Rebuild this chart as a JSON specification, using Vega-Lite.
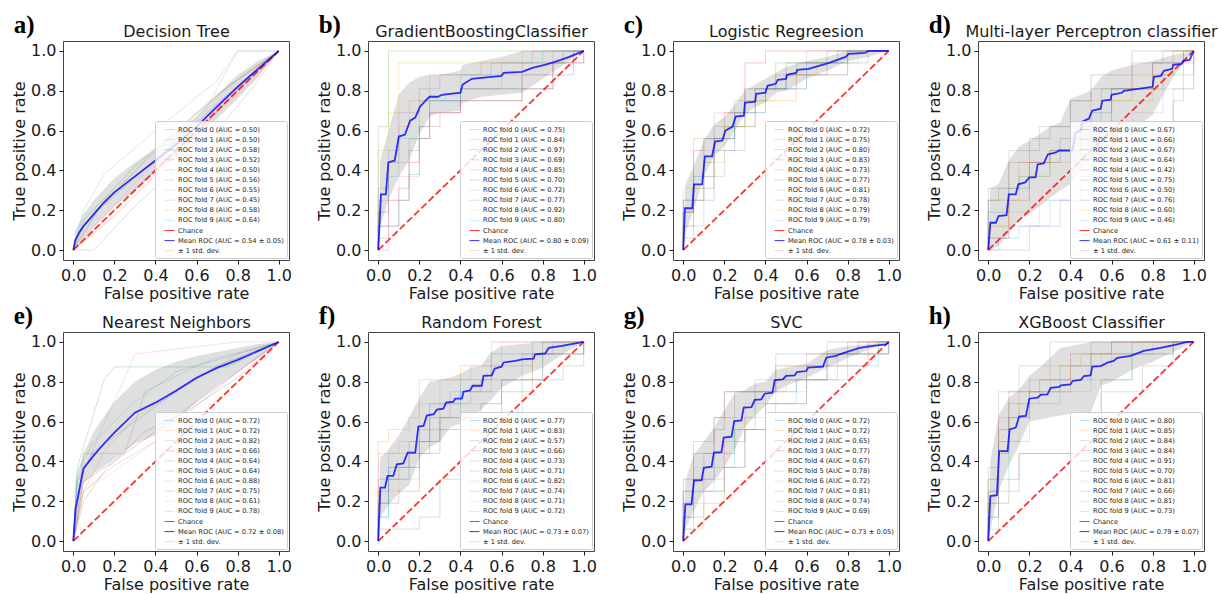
{
"$schema":"https://vega.github.io/schema/vega-lite/v6.json",
"background":"white",
"padding":{"left":11,"top":12,"right":0,"bottom":0},
"columns":4,
"spacing":{"row":72,"column":79},
"bounds":"flush",
"datasets":{
"fold_a":[{"k":0,"fpr":0,"tpr":0},{"k":0,"fpr":0.12,"tpr":0.2},{"k":0,"fpr":0.45,"tpr":0.5},{"k":0,"fpr":0.75,"tpr":0.78},{"k":0,"fpr":1,"tpr":1},
{"k":1,"fpr":0,"tpr":0},{"k":1,"fpr":0.1,"tpr":0.12},{"k":1,"fpr":0.5,"tpr":0.5},{"k":1,"fpr":0.9,"tpr":0.88},{"k":1,"fpr":1,"tpr":1},
{"k":2,"fpr":0,"tpr":0},{"k":2,"fpr":0.05,"tpr":0.15},{"k":2,"fpr":0.3,"tpr":0.42},{"k":2,"fpr":0.7,"tpr":0.78},{"k":2,"fpr":1,"tpr":1},
{"k":3,"fpr":0,"tpr":0},{"k":3,"fpr":0.2,"tpr":0.17},{"k":3,"fpr":0.6,"tpr":0.58},{"k":3,"fpr":0.9,"tpr":0.92},{"k":3,"fpr":1,"tpr":1},
{"k":4,"fpr":0,"tpr":0},{"k":4,"fpr":0.1,"tpr":0.1},{"k":4,"fpr":0.5,"tpr":0.5},{"k":4,"fpr":1,"tpr":1},
{"k":5,"fpr":0,"tpr":0},{"k":5,"fpr":0.05,"tpr":0.12},{"k":5,"fpr":0.35,"tpr":0.45},{"k":5,"fpr":0.75,"tpr":0.82},{"k":5,"fpr":1,"tpr":1},
{"k":6,"fpr":0,"tpr":0},{"k":6,"fpr":0.25,"tpr":0.28},{"k":6,"fpr":0.65,"tpr":0.72},{"k":6,"fpr":0.8,"tpr":1},{"k":6,"fpr":1,"tpr":1},
{"k":7,"fpr":0,"tpr":0},{"k":7,"fpr":0.1,"tpr":0},{"k":7,"fpr":0.3,"tpr":0.22},{"k":7,"fpr":0.7,"tpr":0.6},{"k":7,"fpr":0.9,"tpr":0.85},{"k":7,"fpr":1,"tpr":1},
{"k":8,"fpr":0,"tpr":0},{"k":8,"fpr":0.15,"tpr":0.25},{"k":8,"fpr":0.5,"tpr":0.6},{"k":8,"fpr":0.85,"tpr":0.9},{"k":8,"fpr":1,"tpr":1},
{"k":9,"fpr":0,"tpr":0},{"k":9,"fpr":0.05,"tpr":0.2},{"k":9,"fpr":0.15,"tpr":0.38},{"k":9,"fpr":0.4,"tpr":0.6},{"k":9,"fpr":0.7,"tpr":0.85},{"k":9,"fpr":0.8,"tpr":1},{"k":9,"fpr":1,"tpr":1}],
"fold_b":[{"k":0,"fpr":0,"tpr":0},{"k":0,"fpr":0,"tpr":0.12},{"k":0,"fpr":0.1,"tpr":0.25},{"k":0,"fpr":0.15,"tpr":0.38},{"k":0,"fpr":0.2,"tpr":0.62},{"k":0,"fpr":0.25,"tpr":0.75},{"k":0,"fpr":0.4,"tpr":0.81},{"k":0,"fpr":0.85,"tpr":0.94},{"k":0,"fpr":0.95,"tpr":1},{"k":0,"fpr":1,"tpr":1},
{"k":1,"fpr":0,"tpr":0},{"k":1,"fpr":0,"tpr":0.19},{"k":1,"fpr":0.05,"tpr":0.44},{"k":1,"fpr":0.1,"tpr":0.62},{"k":1,"fpr":0.15,"tpr":0.75},{"k":1,"fpr":0.25,"tpr":0.88},{"k":1,"fpr":0.5,"tpr":0.94},{"k":1,"fpr":0.7,"tpr":1},{"k":1,"fpr":1,"tpr":1},
{"k":2,"fpr":0,"tpr":0},{"k":2,"fpr":0,"tpr":0.62},{"k":2,"fpr":0.05,"tpr":1},{"k":2,"fpr":1,"tpr":1},
{"k":3,"fpr":0,"tpr":0},{"k":3,"fpr":0,"tpr":0.06},{"k":3,"fpr":0.05,"tpr":0.25},{"k":3,"fpr":0.15,"tpr":0.44},{"k":3,"fpr":0.2,"tpr":0.56},{"k":3,"fpr":0.25,"tpr":0.69},{"k":3,"fpr":0.4,"tpr":0.75},{"k":3,"fpr":0.7,"tpr":0.81},{"k":3,"fpr":0.85,"tpr":0.94},{"k":3,"fpr":1,"tpr":1},
{"k":4,"fpr":0,"tpr":0},{"k":4,"fpr":0,"tpr":0.31},{"k":4,"fpr":0.05,"tpr":0.5},{"k":4,"fpr":0.1,"tpr":0.69},{"k":4,"fpr":0.2,"tpr":0.81},{"k":4,"fpr":0.3,"tpr":0.88},{"k":4,"fpr":0.55,"tpr":0.94},{"k":4,"fpr":0.75,"tpr":1},{"k":4,"fpr":1,"tpr":1},
{"k":5,"fpr":0,"tpr":0},{"k":5,"fpr":0,"tpr":0.12},{"k":5,"fpr":0.1,"tpr":0.31},{"k":5,"fpr":0.15,"tpr":0.5},{"k":5,"fpr":0.2,"tpr":0.62},{"k":5,"fpr":0.3,"tpr":0.69},{"k":5,"fpr":0.4,"tpr":0.75},{"k":5,"fpr":0.7,"tpr":0.88},{"k":5,"fpr":0.95,"tpr":0.94},{"k":5,"fpr":1,"tpr":1},
{"k":6,"fpr":0,"tpr":0},{"k":6,"fpr":0.05,"tpr":0.25},{"k":6,"fpr":0.1,"tpr":0.37},{"k":6,"fpr":0.2,"tpr":0.56},{"k":6,"fpr":0.25,"tpr":0.69},{"k":6,"fpr":0.4,"tpr":0.81},{"k":6,"fpr":0.6,"tpr":0.88},{"k":6,"fpr":0.85,"tpr":1},{"k":6,"fpr":1,"tpr":1},
{"k":7,"fpr":0,"tpr":0},{"k":7,"fpr":0,"tpr":0.25},{"k":7,"fpr":0.05,"tpr":0.44},{"k":7,"fpr":0.15,"tpr":0.56},{"k":7,"fpr":0.25,"tpr":0.75},{"k":7,"fpr":0.4,"tpr":0.81},{"k":7,"fpr":0.7,"tpr":0.94},{"k":7,"fpr":0.9,"tpr":1},{"k":7,"fpr":1,"tpr":1},
{"k":8,"fpr":0,"tpr":0},{"k":8,"fpr":0,"tpr":0.5},{"k":8,"fpr":0.05,"tpr":0.69},{"k":8,"fpr":0.1,"tpr":0.94},{"k":8,"fpr":0.95,"tpr":1},{"k":8,"fpr":1,"tpr":1},
{"k":9,"fpr":0,"tpr":0},{"k":9,"fpr":0,"tpr":0.19},{"k":9,"fpr":0.05,"tpr":0.37},{"k":9,"fpr":0.1,"tpr":0.56},{"k":9,"fpr":0.2,"tpr":0.75},{"k":9,"fpr":0.4,"tpr":0.88},{"k":9,"fpr":0.6,"tpr":0.94},{"k":9,"fpr":0.8,"tpr":1},{"k":9,"fpr":1,"tpr":1}],
"fold_c":[{"k":0,"fpr":0,"tpr":0},{"k":0,"fpr":0,"tpr":0.06},{"k":0,"fpr":0.05,"tpr":0.25},{"k":0,"fpr":0.15,"tpr":0.5},{"k":0,"fpr":0.25,"tpr":0.62},{"k":0,"fpr":0.35,"tpr":0.81},{"k":0,"fpr":0.5,"tpr":0.88},{"k":0,"fpr":0.7,"tpr":0.94},{"k":0,"fpr":0.9,"tpr":1},{"k":0,"fpr":1,"tpr":1},
{"k":1,"fpr":0,"tpr":0},{"k":1,"fpr":0,"tpr":0.12},{"k":1,"fpr":0.05,"tpr":0.56},{"k":1,"fpr":0.2,"tpr":0.62},{"k":1,"fpr":0.35,"tpr":0.75},{"k":1,"fpr":0.55,"tpr":0.88},{"k":1,"fpr":0.8,"tpr":1},{"k":1,"fpr":1,"tpr":1},
{"k":2,"fpr":0,"tpr":0},{"k":2,"fpr":0,"tpr":0.25},{"k":2,"fpr":0.1,"tpr":0.44},{"k":2,"fpr":0.15,"tpr":0.62},{"k":2,"fpr":0.3,"tpr":0.81},{"k":2,"fpr":0.45,"tpr":0.94},{"k":2,"fpr":0.7,"tpr":1},{"k":2,"fpr":1,"tpr":1},
{"k":3,"fpr":0,"tpr":0},{"k":3,"fpr":0,"tpr":0.19},{"k":3,"fpr":0.05,"tpr":0.5},{"k":3,"fpr":0.1,"tpr":0.56},{"k":3,"fpr":0.2,"tpr":0.69},{"k":3,"fpr":0.3,"tpr":0.94},{"k":3,"fpr":0.4,"tpr":1},{"k":3,"fpr":1,"tpr":1},
{"k":4,"fpr":0,"tpr":0},{"k":4,"fpr":0,"tpr":0.12},{"k":4,"fpr":0.1,"tpr":0.37},{"k":4,"fpr":0.2,"tpr":0.5},{"k":4,"fpr":0.3,"tpr":0.69},{"k":4,"fpr":0.4,"tpr":0.81},{"k":4,"fpr":0.6,"tpr":0.88},{"k":4,"fpr":0.8,"tpr":1},{"k":4,"fpr":1,"tpr":1},
{"k":5,"fpr":0,"tpr":0},{"k":5,"fpr":0,"tpr":0.19},{"k":5,"fpr":0.05,"tpr":0.31},{"k":5,"fpr":0.15,"tpr":0.56},{"k":5,"fpr":0.25,"tpr":0.69},{"k":5,"fpr":0.35,"tpr":0.81},{"k":5,"fpr":0.5,"tpr":0.94},{"k":5,"fpr":0.75,"tpr":1},{"k":5,"fpr":1,"tpr":1},
{"k":6,"fpr":0,"tpr":0},{"k":6,"fpr":0,"tpr":0.25},{"k":6,"fpr":0.1,"tpr":0.5},{"k":6,"fpr":0.15,"tpr":0.69},{"k":6,"fpr":0.3,"tpr":0.81},{"k":6,"fpr":0.45,"tpr":0.88},{"k":6,"fpr":0.6,"tpr":1},{"k":6,"fpr":1,"tpr":1},
{"k":7,"fpr":0,"tpr":0},{"k":7,"fpr":0,"tpr":0.19},{"k":7,"fpr":0.05,"tpr":0.37},{"k":7,"fpr":0.15,"tpr":0.56},{"k":7,"fpr":0.25,"tpr":0.75},{"k":7,"fpr":0.4,"tpr":0.81},{"k":7,"fpr":0.55,"tpr":0.94},{"k":7,"fpr":0.8,"tpr":1},{"k":7,"fpr":1,"tpr":1},
{"k":8,"fpr":0,"tpr":0},{"k":8,"fpr":0,"tpr":0.31},{"k":8,"fpr":0.1,"tpr":0.44},{"k":8,"fpr":0.2,"tpr":0.62},{"k":8,"fpr":0.3,"tpr":0.75},{"k":8,"fpr":0.45,"tpr":0.88},{"k":8,"fpr":0.65,"tpr":0.94},{"k":8,"fpr":0.85,"tpr":1},{"k":8,"fpr":1,"tpr":1},
{"k":9,"fpr":0,"tpr":0},{"k":9,"fpr":0,"tpr":0.25},{"k":9,"fpr":0.05,"tpr":0.37},{"k":9,"fpr":0.1,"tpr":0.56},{"k":9,"fpr":0.25,"tpr":0.69},{"k":9,"fpr":0.4,"tpr":0.81},{"k":9,"fpr":0.6,"tpr":0.94},{"k":9,"fpr":0.8,"tpr":1},{"k":9,"fpr":1,"tpr":1}],
"fold_d":[{"k":0,"fpr":0,"tpr":0},{"k":0,"fpr":0,"tpr":0.19},{"k":0,"fpr":0.1,"tpr":0.31},{"k":0,"fpr":0.2,"tpr":0.44},{"k":0,"fpr":0.35,"tpr":0.56},{"k":0,"fpr":0.5,"tpr":0.69},{"k":0,"fpr":0.6,"tpr":0.81},{"k":0,"fpr":0.8,"tpr":0.94},{"k":0,"fpr":0.95,"tpr":1},{"k":0,"fpr":1,"tpr":1},
{"k":1,"fpr":0,"tpr":0},{"k":1,"fpr":0,"tpr":0.12},{"k":1,"fpr":0.1,"tpr":0.25},{"k":1,"fpr":0.15,"tpr":0.44},{"k":1,"fpr":0.4,"tpr":0.56},{"k":1,"fpr":0.5,"tpr":0.75},{"k":1,"fpr":0.7,"tpr":0.88},{"k":1,"fpr":0.9,"tpr":1},{"k":1,"fpr":1,"tpr":1},
{"k":2,"fpr":0,"tpr":0},{"k":2,"fpr":0,"tpr":0.25},{"k":2,"fpr":0.05,"tpr":0.31},{"k":2,"fpr":0.15,"tpr":0.37},{"k":2,"fpr":0.3,"tpr":0.5},{"k":2,"fpr":0.4,"tpr":0.62},{"k":2,"fpr":0.55,"tpr":0.81},{"k":2,"fpr":0.85,"tpr":0.88},{"k":2,"fpr":0.95,"tpr":1},{"k":2,"fpr":1,"tpr":1},
{"k":3,"fpr":0,"tpr":0},{"k":3,"fpr":0,"tpr":0.06},{"k":3,"fpr":0.1,"tpr":0.25},{"k":3,"fpr":0.2,"tpr":0.44},{"k":3,"fpr":0.3,"tpr":0.5},{"k":3,"fpr":0.45,"tpr":0.62},{"k":3,"fpr":0.6,"tpr":0.81},{"k":3,"fpr":0.8,"tpr":0.94},{"k":3,"fpr":1,"tpr":1},
{"k":4,"fpr":0,"tpr":0},{"k":4,"fpr":0.05,"tpr":0},{"k":4,"fpr":0.2,"tpr":0.12},{"k":4,"fpr":0.35,"tpr":0.25},{"k":4,"fpr":0.5,"tpr":0.37},{"k":4,"fpr":0.7,"tpr":0.5},{"k":4,"fpr":0.9,"tpr":0.75},{"k":4,"fpr":0.95,"tpr":0.88},{"k":4,"fpr":1,"tpr":1},
{"k":5,"fpr":0,"tpr":0},{"k":5,"fpr":0,"tpr":0.25},{"k":5,"fpr":0.1,"tpr":0.44},{"k":5,"fpr":0.2,"tpr":0.56},{"k":5,"fpr":0.3,"tpr":0.62},{"k":5,"fpr":0.4,"tpr":0.75},{"k":5,"fpr":0.5,"tpr":0.88},{"k":5,"fpr":0.7,"tpr":1},{"k":5,"fpr":1,"tpr":1},
{"k":6,"fpr":0,"tpr":0},{"k":6,"fpr":0,"tpr":0.06},{"k":6,"fpr":0.1,"tpr":0.12},{"k":6,"fpr":0.25,"tpr":0.25},{"k":6,"fpr":0.4,"tpr":0.37},{"k":6,"fpr":0.55,"tpr":0.5},{"k":6,"fpr":0.7,"tpr":0.69},{"k":6,"fpr":0.85,"tpr":0.81},{"k":6,"fpr":1,"tpr":1},
{"k":7,"fpr":0,"tpr":0},{"k":7,"fpr":0,"tpr":0.31},{"k":7,"fpr":0.1,"tpr":0.5},{"k":7,"fpr":0.25,"tpr":0.62},{"k":7,"fpr":0.4,"tpr":0.75},{"k":7,"fpr":0.5,"tpr":0.81},{"k":7,"fpr":0.7,"tpr":0.94},{"k":7,"fpr":0.85,"tpr":1},{"k":7,"fpr":1,"tpr":1},
{"k":8,"fpr":0,"tpr":0},{"k":8,"fpr":0,"tpr":0.12},{"k":8,"fpr":0.1,"tpr":0.19},{"k":8,"fpr":0.2,"tpr":0.37},{"k":8,"fpr":0.3,"tpr":0.5},{"k":8,"fpr":0.45,"tpr":0.56},{"k":8,"fpr":0.6,"tpr":0.75},{"k":8,"fpr":0.8,"tpr":0.88},{"k":8,"fpr":0.9,"tpr":1},{"k":8,"fpr":1,"tpr":1},
{"k":9,"fpr":0,"tpr":0},{"k":9,"fpr":0.05,"tpr":0.06},{"k":9,"fpr":0.15,"tpr":0.12},{"k":9,"fpr":0.3,"tpr":0.25},{"k":9,"fpr":0.45,"tpr":0.37},{"k":9,"fpr":0.6,"tpr":0.5},{"k":9,"fpr":0.8,"tpr":0.62},{"k":9,"fpr":0.9,"tpr":0.81},{"k":9,"fpr":1,"tpr":1}],
"fold_e":[{"k":0,"fpr":0,"tpr":0},{"k":0,"fpr":0.02,"tpr":0.3},{"k":0,"fpr":0.1,"tpr":0.45},{"k":0,"fpr":0.3,"tpr":0.6},{"k":0,"fpr":0.5,"tpr":0.75},{"k":0,"fpr":0.7,"tpr":0.88},{"k":0,"fpr":1,"tpr":1},
{"k":1,"fpr":0,"tpr":0},{"k":1,"fpr":0.05,"tpr":0.25},{"k":1,"fpr":0.15,"tpr":0.45},{"k":1,"fpr":0.3,"tpr":0.62},{"k":1,"fpr":0.5,"tpr":0.75},{"k":1,"fpr":0.8,"tpr":0.94},{"k":1,"fpr":1,"tpr":1},
{"k":2,"fpr":0,"tpr":0},{"k":2,"fpr":0.02,"tpr":0.37},{"k":2,"fpr":0.15,"tpr":0.81},{"k":2,"fpr":0.2,"tpr":0.875},{"k":2,"fpr":0.75,"tpr":0.875},{"k":2,"fpr":1,"tpr":1},
{"k":3,"fpr":0,"tpr":0},{"k":3,"fpr":0.05,"tpr":0.3},{"k":3,"fpr":0.2,"tpr":0.4},{"k":3,"fpr":0.4,"tpr":0.55},{"k":3,"fpr":0.6,"tpr":0.7},{"k":3,"fpr":0.8,"tpr":0.85},{"k":3,"fpr":1,"tpr":1},
{"k":4,"fpr":0,"tpr":0},{"k":4,"fpr":0.05,"tpr":0.25},{"k":4,"fpr":0.2,"tpr":0.38},{"k":4,"fpr":0.4,"tpr":0.5},{"k":4,"fpr":0.6,"tpr":0.68},{"k":4,"fpr":0.8,"tpr":0.85},{"k":4,"fpr":1,"tpr":1},
{"k":5,"fpr":0,"tpr":0},{"k":5,"fpr":0.05,"tpr":0.2},{"k":5,"fpr":0.15,"tpr":0.35},{"k":5,"fpr":0.35,"tpr":0.55},{"k":5,"fpr":0.55,"tpr":0.65},{"k":5,"fpr":0.8,"tpr":0.82},{"k":5,"fpr":1,"tpr":1},
{"k":6,"fpr":0,"tpr":0},{"k":6,"fpr":0.05,"tpr":0.35},{"k":6,"fpr":0.3,"tpr":0.94},{"k":6,"fpr":0.8,"tpr":1},{"k":6,"fpr":1,"tpr":1},
{"k":7,"fpr":0,"tpr":0},{"k":7,"fpr":0.05,"tpr":0.44},{"k":7,"fpr":0.25,"tpr":0.44},{"k":7,"fpr":0.35,"tpr":0.75},{"k":7,"fpr":0.6,"tpr":0.88},{"k":7,"fpr":1,"tpr":1},
{"k":8,"fpr":0,"tpr":0},{"k":8,"fpr":0.05,"tpr":0.25},{"k":8,"fpr":0.2,"tpr":0.35},{"k":8,"fpr":0.4,"tpr":0.5},{"k":8,"fpr":0.6,"tpr":0.62},{"k":8,"fpr":0.8,"tpr":0.8},{"k":8,"fpr":1,"tpr":1},
{"k":9,"fpr":0,"tpr":0},{"k":9,"fpr":0.02,"tpr":0.35},{"k":9,"fpr":0.1,"tpr":0.5},{"k":9,"fpr":0.3,"tpr":0.7},{"k":9,"fpr":0.5,"tpr":0.85},{"k":9,"fpr":0.7,"tpr":0.92},{"k":9,"fpr":1,"tpr":1}],
"fold_f":[{"k":0,"fpr":0,"tpr":0},{"k":0,"fpr":0,"tpr":0.12},{"k":0,"fpr":0.05,"tpr":0.31},{"k":0,"fpr":0.15,"tpr":0.5},{"k":0,"fpr":0.25,"tpr":0.69},{"k":0,"fpr":0.4,"tpr":0.81},{"k":0,"fpr":0.55,"tpr":0.94},{"k":0,"fpr":0.8,"tpr":1},{"k":0,"fpr":1,"tpr":1},
{"k":1,"fpr":0,"tpr":0},{"k":1,"fpr":0,"tpr":0.5},{"k":1,"fpr":0.05,"tpr":0.56},{"k":1,"fpr":0.15,"tpr":0.62},{"k":1,"fpr":0.2,"tpr":0.81},{"k":1,"fpr":0.4,"tpr":0.88},{"k":1,"fpr":0.55,"tpr":1},{"k":1,"fpr":1,"tpr":1},
{"k":2,"fpr":0,"tpr":0},{"k":2,"fpr":0,"tpr":0.06},{"k":2,"fpr":0.2,"tpr":0.12},{"k":2,"fpr":0.3,"tpr":0.31},{"k":2,"fpr":0.45,"tpr":0.44},{"k":2,"fpr":0.55,"tpr":0.62},{"k":2,"fpr":0.7,"tpr":0.81},{"k":2,"fpr":0.9,"tpr":0.88},{"k":2,"fpr":1,"tpr":1},
{"k":3,"fpr":0,"tpr":0},{"k":3,"fpr":0,"tpr":0.19},{"k":3,"fpr":0.1,"tpr":0.25},{"k":3,"fpr":0.2,"tpr":0.44},{"k":3,"fpr":0.3,"tpr":0.56},{"k":3,"fpr":0.45,"tpr":0.62},{"k":3,"fpr":0.6,"tpr":0.75},{"k":3,"fpr":0.75,"tpr":0.94},{"k":3,"fpr":1,"tpr":1},
{"k":4,"fpr":0,"tpr":0},{"k":4,"fpr":0,"tpr":0.25},{"k":4,"fpr":0.05,"tpr":0.37},{"k":4,"fpr":0.15,"tpr":0.44},{"k":4,"fpr":0.25,"tpr":0.62},{"k":4,"fpr":0.35,"tpr":0.75},{"k":4,"fpr":0.5,"tpr":0.81},{"k":4,"fpr":0.7,"tpr":0.94},{"k":4,"fpr":0.85,"tpr":1},{"k":4,"fpr":1,"tpr":1},
{"k":5,"fpr":0,"tpr":0},{"k":5,"fpr":0,"tpr":0.31},{"k":5,"fpr":0.1,"tpr":0.37},{"k":5,"fpr":0.2,"tpr":0.5},{"k":5,"fpr":0.3,"tpr":0.62},{"k":5,"fpr":0.5,"tpr":0.69},{"k":5,"fpr":0.6,"tpr":0.81},{"k":5,"fpr":0.8,"tpr":0.94},{"k":5,"fpr":1,"tpr":1},
{"k":6,"fpr":0,"tpr":0},{"k":6,"fpr":0,"tpr":0.44},{"k":6,"fpr":0.1,"tpr":0.5},{"k":6,"fpr":0.2,"tpr":0.69},{"k":6,"fpr":0.3,"tpr":0.81},{"k":6,"fpr":0.45,"tpr":0.88},{"k":6,"fpr":0.6,"tpr":1},{"k":6,"fpr":1,"tpr":1},
{"k":7,"fpr":0,"tpr":0},{"k":7,"fpr":0,"tpr":0.19},{"k":7,"fpr":0.05,"tpr":0.44},{"k":7,"fpr":0.2,"tpr":0.56},{"k":7,"fpr":0.3,"tpr":0.69},{"k":7,"fpr":0.45,"tpr":0.75},{"k":7,"fpr":0.55,"tpr":0.88},{"k":7,"fpr":0.75,"tpr":1},{"k":7,"fpr":1,"tpr":1},
{"k":8,"fpr":0,"tpr":0},{"k":8,"fpr":0,"tpr":0.25},{"k":8,"fpr":0.1,"tpr":0.31},{"k":8,"fpr":0.2,"tpr":0.44},{"k":8,"fpr":0.25,"tpr":0.62},{"k":8,"fpr":0.4,"tpr":0.69},{"k":8,"fpr":0.6,"tpr":0.81},{"k":8,"fpr":0.75,"tpr":0.94},{"k":8,"fpr":0.9,"tpr":1},{"k":8,"fpr":1,"tpr":1},
{"k":9,"fpr":0,"tpr":0},{"k":9,"fpr":0,"tpr":0.12},{"k":9,"fpr":0.05,"tpr":0.37},{"k":9,"fpr":0.2,"tpr":0.5},{"k":9,"fpr":0.3,"tpr":0.62},{"k":9,"fpr":0.4,"tpr":0.75},{"k":9,"fpr":0.6,"tpr":0.81},{"k":9,"fpr":0.8,"tpr":0.94},{"k":9,"fpr":1,"tpr":1}],
"fold_g":[{"k":0,"fpr":0,"tpr":0},{"k":0,"fpr":0,"tpr":0.19},{"k":0,"fpr":0.05,"tpr":0.31},{"k":0,"fpr":0.15,"tpr":0.44},{"k":0,"fpr":0.25,"tpr":0.56},{"k":0,"fpr":0.35,"tpr":0.75},{"k":0,"fpr":0.55,"tpr":0.81},{"k":0,"fpr":0.7,"tpr":0.94},{"k":0,"fpr":1,"tpr":1},
{"k":1,"fpr":0,"tpr":0},{"k":1,"fpr":0,"tpr":0.06},{"k":1,"fpr":0.1,"tpr":0.25},{"k":1,"fpr":0.2,"tpr":0.5},{"k":1,"fpr":0.3,"tpr":0.69},{"k":1,"fpr":0.45,"tpr":0.81},{"k":1,"fpr":0.7,"tpr":0.88},{"k":1,"fpr":0.9,"tpr":1},{"k":1,"fpr":1,"tpr":1},
{"k":2,"fpr":0,"tpr":0},{"k":2,"fpr":0,"tpr":0.12},{"k":2,"fpr":0.1,"tpr":0.19},{"k":2,"fpr":0.2,"tpr":0.37},{"k":2,"fpr":0.3,"tpr":0.56},{"k":2,"fpr":0.45,"tpr":0.69},{"k":2,"fpr":0.6,"tpr":0.81},{"k":2,"fpr":0.8,"tpr":0.94},{"k":2,"fpr":1,"tpr":1},
{"k":3,"fpr":0,"tpr":0},{"k":3,"fpr":0,"tpr":0.25},{"k":3,"fpr":0.05,"tpr":0.44},{"k":3,"fpr":0.15,"tpr":0.56},{"k":3,"fpr":0.2,"tpr":0.75},{"k":3,"fpr":0.45,"tpr":0.88},{"k":3,"fpr":0.7,"tpr":0.94},{"k":3,"fpr":0.85,"tpr":1},{"k":3,"fpr":1,"tpr":1},
{"k":4,"fpr":0,"tpr":0},{"k":4,"fpr":0,"tpr":0.12},{"k":4,"fpr":0.05,"tpr":0.25},{"k":4,"fpr":0.2,"tpr":0.37},{"k":4,"fpr":0.3,"tpr":0.56},{"k":4,"fpr":0.4,"tpr":0.69},{"k":4,"fpr":0.6,"tpr":0.81},{"k":4,"fpr":0.75,"tpr":0.94},{"k":4,"fpr":1,"tpr":1},
{"k":5,"fpr":0,"tpr":0},{"k":5,"fpr":0,"tpr":0.31},{"k":5,"fpr":0.1,"tpr":0.44},{"k":5,"fpr":0.15,"tpr":0.62},{"k":5,"fpr":0.25,"tpr":0.75},{"k":5,"fpr":0.45,"tpr":0.81},{"k":5,"fpr":0.6,"tpr":0.94},{"k":5,"fpr":0.8,"tpr":1},{"k":5,"fpr":1,"tpr":1},
{"k":6,"fpr":0,"tpr":0},{"k":6,"fpr":0,"tpr":0.19},{"k":6,"fpr":0.1,"tpr":0.31},{"k":6,"fpr":0.2,"tpr":0.5},{"k":6,"fpr":0.3,"tpr":0.62},{"k":6,"fpr":0.4,"tpr":0.75},{"k":6,"fpr":0.6,"tpr":0.88},{"k":6,"fpr":0.9,"tpr":1},{"k":6,"fpr":1,"tpr":1},
{"k":7,"fpr":0,"tpr":0},{"k":7,"fpr":0,"tpr":0.25},{"k":7,"fpr":0.05,"tpr":0.5},{"k":7,"fpr":0.15,"tpr":0.62},{"k":7,"fpr":0.2,"tpr":0.75},{"k":7,"fpr":0.35,"tpr":0.81},{"k":7,"fpr":0.45,"tpr":0.94},{"k":7,"fpr":0.7,"tpr":1},{"k":7,"fpr":1,"tpr":1},
{"k":8,"fpr":0,"tpr":0},{"k":8,"fpr":0,"tpr":0.12},{"k":8,"fpr":0.05,"tpr":0.37},{"k":8,"fpr":0.15,"tpr":0.44},{"k":8,"fpr":0.25,"tpr":0.62},{"k":8,"fpr":0.35,"tpr":0.75},{"k":8,"fpr":0.5,"tpr":0.88},{"k":8,"fpr":0.7,"tpr":0.94},{"k":8,"fpr":0.95,"tpr":1},{"k":8,"fpr":1,"tpr":1},
{"k":9,"fpr":0,"tpr":0},{"k":9,"fpr":0,"tpr":0.06},{"k":9,"fpr":0.05,"tpr":0.25},{"k":9,"fpr":0.15,"tpr":0.37},{"k":9,"fpr":0.25,"tpr":0.56},{"k":9,"fpr":0.4,"tpr":0.69},{"k":9,"fpr":0.55,"tpr":0.81},{"k":9,"fpr":0.7,"tpr":0.88},{"k":9,"fpr":0.95,"tpr":1},{"k":9,"fpr":1,"tpr":1}],
"fold_h":[{"k":0,"fpr":0,"tpr":0},{"k":0,"fpr":0,"tpr":0.25},{"k":0,"fpr":0.05,"tpr":0.5},{"k":0,"fpr":0.1,"tpr":0.62},{"k":0,"fpr":0.2,"tpr":0.75},{"k":0,"fpr":0.35,"tpr":0.81},{"k":0,"fpr":0.5,"tpr":0.94},{"k":0,"fpr":0.7,"tpr":1},{"k":0,"fpr":1,"tpr":1},
{"k":1,"fpr":0,"tpr":0},{"k":1,"fpr":0,"tpr":0.19},{"k":1,"fpr":0.05,"tpr":0.62},{"k":1,"fpr":0.15,"tpr":0.75},{"k":1,"fpr":0.3,"tpr":0.88},{"k":1,"fpr":0.45,"tpr":0.94},{"k":1,"fpr":0.6,"tpr":1},{"k":1,"fpr":1,"tpr":1},
{"k":2,"fpr":0,"tpr":0},{"k":2,"fpr":0,"tpr":0.31},{"k":2,"fpr":0.05,"tpr":0.44},{"k":2,"fpr":0.1,"tpr":0.69},{"k":2,"fpr":0.2,"tpr":0.81},{"k":2,"fpr":0.35,"tpr":0.88},{"k":2,"fpr":0.5,"tpr":1},{"k":2,"fpr":1,"tpr":1},
{"k":3,"fpr":0,"tpr":0},{"k":3,"fpr":0,"tpr":0.12},{"k":3,"fpr":0.05,"tpr":0.56},{"k":3,"fpr":0.1,"tpr":0.75},{"k":3,"fpr":0.25,"tpr":0.81},{"k":3,"fpr":0.4,"tpr":0.94},{"k":3,"fpr":0.6,"tpr":1},{"k":3,"fpr":1,"tpr":1},
{"k":4,"fpr":0,"tpr":0},{"k":4,"fpr":0,"tpr":0.37},{"k":4,"fpr":0.05,"tpr":0.75},{"k":4,"fpr":0.15,"tpr":0.88},{"k":4,"fpr":0.3,"tpr":1},{"k":4,"fpr":1,"tpr":1},
{"k":5,"fpr":0,"tpr":0},{"k":5,"fpr":0,"tpr":0.19},{"k":5,"fpr":0.1,"tpr":0.31},{"k":5,"fpr":0.15,"tpr":0.44},{"k":5,"fpr":0.5,"tpr":0.62},{"k":5,"fpr":0.55,"tpr":0.81},{"k":5,"fpr":0.7,"tpr":0.94},{"k":5,"fpr":0.9,"tpr":1},{"k":5,"fpr":1,"tpr":1},
{"k":6,"fpr":0,"tpr":0},{"k":6,"fpr":0,"tpr":0.25},{"k":6,"fpr":0.05,"tpr":0.44},{"k":6,"fpr":0.1,"tpr":0.62},{"k":6,"fpr":0.2,"tpr":0.75},{"k":6,"fpr":0.4,"tpr":0.88},{"k":6,"fpr":0.6,"tpr":0.94},{"k":6,"fpr":0.8,"tpr":1},{"k":6,"fpr":1,"tpr":1},
{"k":7,"fpr":0,"tpr":0},{"k":7,"fpr":0,"tpr":0.06},{"k":7,"fpr":0.05,"tpr":0.25},{"k":7,"fpr":0.15,"tpr":0.44},{"k":7,"fpr":0.5,"tpr":0.5},{"k":7,"fpr":0.55,"tpr":0.75},{"k":7,"fpr":0.75,"tpr":0.88},{"k":7,"fpr":0.9,"tpr":1},{"k":7,"fpr":1,"tpr":1},
{"k":8,"fpr":0,"tpr":0},{"k":8,"fpr":0,"tpr":0.31},{"k":8,"fpr":0.05,"tpr":0.5},{"k":8,"fpr":0.15,"tpr":0.69},{"k":8,"fpr":0.25,"tpr":0.75},{"k":8,"fpr":0.4,"tpr":0.88},{"k":8,"fpr":0.55,"tpr":0.94},{"k":8,"fpr":0.75,"tpr":1},{"k":8,"fpr":1,"tpr":1},
{"k":9,"fpr":0,"tpr":0},{"k":9,"fpr":0,"tpr":0.12},{"k":9,"fpr":0.05,"tpr":0.31},{"k":9,"fpr":0.1,"tpr":0.5},{"k":9,"fpr":0.2,"tpr":0.69},{"k":9,"fpr":0.35,"tpr":0.75},{"k":9,"fpr":0.5,"tpr":0.81},{"k":9,"fpr":0.7,"tpr":0.94},{"k":9,"fpr":0.9,"tpr":1},{"k":9,"fpr":1,"tpr":1}],
"mean_a":[{"fpr":0,"tpr":0},{"fpr":0.01,"tpr":0.05},{"fpr":0.03,"tpr":0.09},{"fpr":0.05,"tpr":0.12},{"fpr":0.1,"tpr":0.18},{"fpr":0.15,"tpr":0.24},{"fpr":0.2,"tpr":0.29},{"fpr":0.3,"tpr":0.37},{"fpr":0.4,"tpr":0.45},{"fpr":0.5,"tpr":0.53},{"fpr":0.6,"tpr":0.62},{"fpr":0.7,"tpr":0.72},{"fpr":0.8,"tpr":0.82},{"fpr":0.9,"tpr":0.91},{"fpr":1,"tpr":1}],
"band_a":[{"fpr":0,"lo":0,"hi":0},{"fpr":0.01,"lo":0.01,"hi":0.1},{"fpr":0.05,"lo":0.06,"hi":0.18},{"fpr":0.1,"lo":0.12,"hi":0.25},{"fpr":0.2,"lo":0.22,"hi":0.36},{"fpr":0.3,"lo":0.3,"hi":0.44},{"fpr":0.4,"lo":0.39,"hi":0.51},{"fpr":0.5,"lo":0.47,"hi":0.59},{"fpr":0.6,"lo":0.57,"hi":0.67},{"fpr":0.7,"lo":0.66,"hi":0.78},{"fpr":0.8,"lo":0.76,"hi":0.88},{"fpr":0.9,"lo":0.87,"hi":0.95},{"fpr":1,"lo":1,"hi":1}],
"mean_b":[{"fpr":0,"tpr":0},{"fpr":0.013,"tpr":0.28},{"fpr":0.037,"tpr":0.28},{"fpr":0.049,"tpr":0.44},{"fpr":0.08,"tpr":0.45},{"fpr":0.1,"tpr":0.57},{"fpr":0.13,"tpr":0.58},{"fpr":0.155,"tpr":0.65},{"fpr":0.18,"tpr":0.665},{"fpr":0.203,"tpr":0.72},{"fpr":0.23,"tpr":0.75},{"fpr":0.25,"tpr":0.77},{"fpr":0.29,"tpr":0.77},{"fpr":0.31,"tpr":0.78},{"fpr":0.4,"tpr":0.79},{"fpr":0.41,"tpr":0.83},{"fpr":0.455,"tpr":0.86},{"fpr":0.55,"tpr":0.87},{"fpr":0.6,"tpr":0.875},{"fpr":0.61,"tpr":0.89},{"fpr":0.7,"tpr":0.895},{"fpr":0.75,"tpr":0.915},{"fpr":0.81,"tpr":0.93},{"fpr":0.86,"tpr":0.945},{"fpr":0.93,"tpr":0.97},{"fpr":1,"tpr":1}],
"band_b":[{"fpr":0,"lo":0,"hi":0},{"fpr":0.01,"lo":0.12,"hi":0.45},{"fpr":0.05,"lo":0.25,"hi":0.6},{"fpr":0.1,"lo":0.37,"hi":0.78},{"fpr":0.15,"lo":0.45,"hi":0.84},{"fpr":0.2,"lo":0.58,"hi":0.87},{"fpr":0.25,"lo":0.67,"hi":0.88},{"fpr":0.3,"lo":0.69,"hi":0.88},{"fpr":0.4,"lo":0.7,"hi":0.9},{"fpr":0.41,"lo":0.74,"hi":0.93},{"fpr":0.5,"lo":0.77,"hi":0.95},{"fpr":0.6,"lo":0.78,"hi":0.97},{"fpr":0.7,"lo":0.79,"hi":1},{"fpr":0.8,"lo":0.86,"hi":1},{"fpr":0.9,"lo":0.93,"hi":1},{"fpr":1,"lo":1,"hi":1}],
"mean_c":[{"fpr":0,"tpr":0},{"fpr":0.008,"tpr":0.21},{"fpr":0.044,"tpr":0.21},{"fpr":0.052,"tpr":0.33},{"fpr":0.092,"tpr":0.33},{"fpr":0.105,"tpr":0.47},{"fpr":0.14,"tpr":0.47},{"fpr":0.155,"tpr":0.545},{"fpr":0.19,"tpr":0.55},{"fpr":0.205,"tpr":0.6},{"fpr":0.24,"tpr":0.62},{"fpr":0.255,"tpr":0.67},{"fpr":0.295,"tpr":0.675},{"fpr":0.3,"tpr":0.74},{"fpr":0.35,"tpr":0.745},{"fpr":0.355,"tpr":0.785},{"fpr":0.4,"tpr":0.79},{"fpr":0.41,"tpr":0.825},{"fpr":0.45,"tpr":0.835},{"fpr":0.46,"tpr":0.855},{"fpr":0.5,"tpr":0.86},{"fpr":0.505,"tpr":0.88},{"fpr":0.55,"tpr":0.89},{"fpr":0.555,"tpr":0.905},{"fpr":0.61,"tpr":0.91},{"fpr":0.66,"tpr":0.925},{"fpr":0.71,"tpr":0.94},{"fpr":0.79,"tpr":0.97},{"fpr":0.805,"tpr":0.985},{"fpr":0.885,"tpr":0.99},{"fpr":0.9,"tpr":1},{"fpr":1,"tpr":1}],
"band_c":[{"fpr":0,"lo":0,"hi":0},{"fpr":0.01,"lo":0.08,"hi":0.33},{"fpr":0.05,"lo":0.2,"hi":0.42},{"fpr":0.1,"lo":0.37,"hi":0.55},{"fpr":0.15,"lo":0.47,"hi":0.63},{"fpr":0.2,"lo":0.52,"hi":0.67},{"fpr":0.25,"lo":0.6,"hi":0.73},{"fpr":0.3,"lo":0.68,"hi":0.8},{"fpr":0.35,"lo":0.72,"hi":0.83},{"fpr":0.4,"lo":0.74,"hi":0.86},{"fpr":0.45,"lo":0.79,"hi":0.89},{"fpr":0.5,"lo":0.8,"hi":0.92},{"fpr":0.6,"lo":0.86,"hi":0.95},{"fpr":0.7,"lo":0.9,"hi":0.97},{"fpr":0.8,"lo":0.95,"hi":1},{"fpr":0.9,"lo":0.97,"hi":1},{"fpr":1,"lo":1,"hi":1}],
"mean_d":[{"fpr":0,"tpr":0},{"fpr":0.01,"tpr":0.137},{"fpr":0.037,"tpr":0.137},{"fpr":0.05,"tpr":0.17},{"fpr":0.089,"tpr":0.175},{"fpr":0.1,"tpr":0.28},{"fpr":0.134,"tpr":0.28},{"fpr":0.146,"tpr":0.33},{"fpr":0.18,"tpr":0.34},{"fpr":0.2,"tpr":0.365},{"fpr":0.23,"tpr":0.365},{"fpr":0.24,"tpr":0.43},{"fpr":0.27,"tpr":0.435},{"fpr":0.29,"tpr":0.48},{"fpr":0.33,"tpr":0.49},{"fpr":0.345,"tpr":0.5},{"fpr":0.39,"tpr":0.5},{"fpr":0.41,"tpr":0.5},{"fpr":0.425,"tpr":0.59},{"fpr":0.45,"tpr":0.6},{"fpr":0.458,"tpr":0.645},{"fpr":0.49,"tpr":0.66},{"fpr":0.506,"tpr":0.7},{"fpr":0.547,"tpr":0.71},{"fpr":0.555,"tpr":0.75},{"fpr":0.596,"tpr":0.755},{"fpr":0.6,"tpr":0.78},{"fpr":0.65,"tpr":0.79},{"fpr":0.66,"tpr":0.8},{"fpr":0.8,"tpr":0.82},{"fpr":0.806,"tpr":0.87},{"fpr":0.84,"tpr":0.875},{"fpr":0.855,"tpr":0.9},{"fpr":0.895,"tpr":0.91},{"fpr":0.9,"tpr":0.93},{"fpr":0.94,"tpr":0.935},{"fpr":0.95,"tpr":0.95},{"fpr":0.98,"tpr":0.955},{"fpr":1,"tpr":1}],
"band_d":[{"fpr":0,"lo":0,"hi":0},{"fpr":0.01,"lo":0,"hi":0.31},{"fpr":0.05,"lo":0.02,"hi":0.33},{"fpr":0.1,"lo":0.09,"hi":0.45},{"fpr":0.15,"lo":0.15,"hi":0.52},{"fpr":0.2,"lo":0.18,"hi":0.55},{"fpr":0.25,"lo":0.22,"hi":0.58},{"fpr":0.3,"lo":0.26,"hi":0.62},{"fpr":0.35,"lo":0.3,"hi":0.64},{"fpr":0.4,"lo":0.33,"hi":0.76},{"fpr":0.45,"lo":0.4,"hi":0.78},{"fpr":0.5,"lo":0.45,"hi":0.8},{"fpr":0.55,"lo":0.5,"hi":0.87},{"fpr":0.6,"lo":0.52,"hi":0.9},{"fpr":0.7,"lo":0.6,"hi":0.93},{"fpr":0.8,"lo":0.68,"hi":0.95},{"fpr":0.9,"lo":0.87,"hi":0.98},{"fpr":1,"lo":1,"hi":1}],
"mean_e":[{"fpr":0,"tpr":0},{"fpr":0.011,"tpr":0.16},{"fpr":0.05,"tpr":0.365},{"fpr":0.1,"tpr":0.43},{"fpr":0.15,"tpr":0.49},{"fpr":0.2,"tpr":0.545},{"fpr":0.3,"tpr":0.645},{"fpr":0.4,"tpr":0.695},{"fpr":0.5,"tpr":0.755},{"fpr":0.6,"tpr":0.82},{"fpr":0.7,"tpr":0.87},{"fpr":0.8,"tpr":0.91},{"fpr":0.9,"tpr":0.955},{"fpr":1,"tpr":1}],
"band_e":[{"fpr":0,"lo":0,"hi":0},{"fpr":0.01,"lo":0.03,"hi":0.3},{"fpr":0.05,"lo":0.29,"hi":0.44},{"fpr":0.1,"lo":0.34,"hi":0.55},{"fpr":0.2,"lo":0.41,"hi":0.7},{"fpr":0.3,"lo":0.49,"hi":0.8},{"fpr":0.4,"lo":0.53,"hi":0.86},{"fpr":0.5,"lo":0.6,"hi":0.9},{"fpr":0.6,"lo":0.7,"hi":0.93},{"fpr":0.7,"lo":0.78,"hi":0.95},{"fpr":0.8,"lo":0.85,"hi":0.97},{"fpr":0.9,"lo":0.92,"hi":0.99},{"fpr":1,"lo":1,"hi":1}],
"mean_f":[{"fpr":0,"tpr":0},{"fpr":0.01,"tpr":0.268},{"fpr":0.033,"tpr":0.268},{"fpr":0.045,"tpr":0.327},{"fpr":0.073,"tpr":0.327},{"fpr":0.09,"tpr":0.385},{"fpr":0.122,"tpr":0.39},{"fpr":0.143,"tpr":0.444},{"fpr":0.18,"tpr":0.444},{"fpr":0.195,"tpr":0.575},{"fpr":0.22,"tpr":0.578},{"fpr":0.236,"tpr":0.63},{"fpr":0.27,"tpr":0.637},{"fpr":0.285,"tpr":0.66},{"fpr":0.317,"tpr":0.665},{"fpr":0.33,"tpr":0.695},{"fpr":0.366,"tpr":0.7},{"fpr":0.374,"tpr":0.715},{"fpr":0.407,"tpr":0.715},{"fpr":0.415,"tpr":0.75},{"fpr":0.447,"tpr":0.757},{"fpr":0.459,"tpr":0.78},{"fpr":0.504,"tpr":0.78},{"fpr":0.512,"tpr":0.83},{"fpr":0.553,"tpr":0.832},{"fpr":0.566,"tpr":0.866},{"fpr":0.6,"tpr":0.876},{"fpr":0.61,"tpr":0.897},{"fpr":0.667,"tpr":0.905},{"fpr":0.7,"tpr":0.913},{"fpr":0.756,"tpr":0.916},{"fpr":0.764,"tpr":0.938},{"fpr":0.813,"tpr":0.943},{"fpr":0.83,"tpr":0.97},{"fpr":0.894,"tpr":0.98},{"fpr":1,"tpr":1}],
"band_f":[{"fpr":0,"lo":0,"hi":0},{"fpr":0.01,"lo":0.12,"hi":0.42},{"fpr":0.05,"lo":0.18,"hi":0.46},{"fpr":0.1,"lo":0.24,"hi":0.53},{"fpr":0.15,"lo":0.28,"hi":0.62},{"fpr":0.2,"lo":0.42,"hi":0.72},{"fpr":0.25,"lo":0.47,"hi":0.8},{"fpr":0.3,"lo":0.5,"hi":0.81},{"fpr":0.35,"lo":0.57,"hi":0.82},{"fpr":0.4,"lo":0.59,"hi":0.84},{"fpr":0.45,"lo":0.62,"hi":0.87},{"fpr":0.5,"lo":0.66,"hi":0.88},{"fpr":0.55,"lo":0.71,"hi":0.95},{"fpr":0.6,"lo":0.77,"hi":0.98},{"fpr":0.7,"lo":0.83,"hi":0.99},{"fpr":0.8,"lo":0.87,"hi":1},{"fpr":0.9,"lo":0.94,"hi":1},{"fpr":1,"lo":1,"hi":1}],
"mean_g":[{"fpr":0,"tpr":0},{"fpr":0.01,"tpr":0.184},{"fpr":0.04,"tpr":0.184},{"fpr":0.052,"tpr":0.305},{"fpr":0.089,"tpr":0.305},{"fpr":0.1,"tpr":0.368},{"fpr":0.138,"tpr":0.374},{"fpr":0.149,"tpr":0.444},{"fpr":0.186,"tpr":0.447},{"fpr":0.197,"tpr":0.52},{"fpr":0.235,"tpr":0.524},{"fpr":0.248,"tpr":0.603},{"fpr":0.283,"tpr":0.606},{"fpr":0.294,"tpr":0.67},{"fpr":0.332,"tpr":0.673},{"fpr":0.348,"tpr":0.709},{"fpr":0.38,"tpr":0.712},{"fpr":0.396,"tpr":0.74},{"fpr":0.434,"tpr":0.745},{"fpr":0.445,"tpr":0.809},{"fpr":0.485,"tpr":0.812},{"fpr":0.5,"tpr":0.83},{"fpr":0.542,"tpr":0.832},{"fpr":0.553,"tpr":0.849},{"fpr":0.599,"tpr":0.854},{"fpr":0.607,"tpr":0.871},{"fpr":0.68,"tpr":0.876},{"fpr":0.696,"tpr":0.921},{"fpr":0.744,"tpr":0.93},{"fpr":0.76,"tpr":0.938},{"fpr":0.858,"tpr":0.97},{"fpr":0.922,"tpr":0.98},{"fpr":0.987,"tpr":0.988},{"fpr":1,"tpr":1}],
"band_g":[{"fpr":0,"lo":0,"hi":0},{"fpr":0.01,"lo":0.06,"hi":0.3},{"fpr":0.05,"lo":0.15,"hi":0.43},{"fpr":0.1,"lo":0.25,"hi":0.5},{"fpr":0.15,"lo":0.3,"hi":0.57},{"fpr":0.2,"lo":0.37,"hi":0.66},{"fpr":0.25,"lo":0.46,"hi":0.74},{"fpr":0.3,"lo":0.57,"hi":0.76},{"fpr":0.35,"lo":0.63,"hi":0.79},{"fpr":0.4,"lo":0.68,"hi":0.8},{"fpr":0.45,"lo":0.75,"hi":0.86},{"fpr":0.5,"lo":0.78,"hi":0.87},{"fpr":0.6,"lo":0.82,"hi":0.89},{"fpr":0.7,"lo":0.87,"hi":0.96},{"fpr":0.8,"lo":0.92,"hi":0.98},{"fpr":0.9,"lo":0.96,"hi":0.99},{"fpr":1,"lo":1,"hi":1}],
"mean_h":[{"fpr":0,"tpr":0},{"fpr":0.01,"tpr":0.226},{"fpr":0.042,"tpr":0.23},{"fpr":0.053,"tpr":0.452},{"fpr":0.094,"tpr":0.452},{"fpr":0.104,"tpr":0.561},{"fpr":0.134,"tpr":0.57},{"fpr":0.15,"tpr":0.625},{"fpr":0.183,"tpr":0.628},{"fpr":0.2,"tpr":0.715},{"fpr":0.24,"tpr":0.72},{"fpr":0.256,"tpr":0.735},{"fpr":0.288,"tpr":0.737},{"fpr":0.304,"tpr":0.77},{"fpr":0.345,"tpr":0.774},{"fpr":0.353,"tpr":0.782},{"fpr":0.4,"tpr":0.787},{"fpr":0.41,"tpr":0.804},{"fpr":0.45,"tpr":0.809},{"fpr":0.466,"tpr":0.829},{"fpr":0.498,"tpr":0.832},{"fpr":0.506,"tpr":0.876},{"fpr":0.547,"tpr":0.879},{"fpr":0.58,"tpr":0.896},{"fpr":0.61,"tpr":0.905},{"fpr":0.628,"tpr":0.92},{"fpr":0.693,"tpr":0.93},{"fpr":0.757,"tpr":0.955},{"fpr":0.838,"tpr":0.97},{"fpr":0.919,"tpr":0.988},{"fpr":0.968,"tpr":1},{"fpr":1,"tpr":1}],
"band_h":[{"fpr":0,"lo":0,"hi":0},{"fpr":0.01,"lo":0.05,"hi":0.4},{"fpr":0.05,"lo":0.25,"hi":0.63},{"fpr":0.1,"lo":0.38,"hi":0.72},{"fpr":0.15,"lo":0.48,"hi":0.76},{"fpr":0.2,"lo":0.6,"hi":0.83},{"fpr":0.25,"lo":0.61,"hi":0.87},{"fpr":0.3,"lo":0.62,"hi":0.92},{"fpr":0.35,"lo":0.63,"hi":0.97},{"fpr":0.4,"lo":0.64,"hi":0.98},{"fpr":0.5,"lo":0.65,"hi":1},{"fpr":0.55,"lo":0.78,"hi":1},{"fpr":0.6,"lo":0.8,"hi":1},{"fpr":0.7,"lo":0.86,"hi":1},{"fpr":0.8,"lo":0.9,"hi":1},{"fpr":0.9,"lo":0.95,"hi":1},{"fpr":1,"lo":1,"hi":1}]
},
"concat":[
{"width":226,"height":219,"resolve":{"axis":{"x":"independent"}},"layer":[
 {"data":{"name":"band_a"},"mark":{"type":"area","opacity":1},"encoding":{"x":{"field":"fpr","type":"quantitative","scale":{"domain":[-0.05,1.05],"nice":false,"zero":false},"axis":{"values":[0,0.2,0.4,0.6,0.8,1],"format":".1f","title":"False positive rate"}},"y":{"field":"hi","type":"quantitative","scale":{"domain":[-0.05,1.05],"nice":false,"zero":false},"axis":{"values":[0,0.2,0.4,0.6,0.8,1],"format":".1f","title":"True positive rate"}},"y2":{"field":"lo"},
  "color":{"datum":"± 1 std. dev.","type":"nominal","scale":{"domain":["ROC fold 0 (AUC = 0.50)","ROC fold 1 (AUC = 0.50)","ROC fold 2 (AUC = 0.58)","ROC fold 3 (AUC = 0.52)","ROC fold 4 (AUC = 0.50)","ROC fold 5 (AUC = 0.56)","ROC fold 6 (AUC = 0.55)","ROC fold 7 (AUC = 0.45)","ROC fold 8 (AUC = 0.58)","ROC fold 9 (AUC = 0.64)","Chance","Mean ROC (AUC = 0.54 ± 0.05)","± 1 std. dev."],"range":["rgba(31,119,180,0.24)","rgba(255,127,14,0.24)","rgba(44,160,44,0.24)","rgba(214,39,40,0.24)","rgba(148,103,189,0.24)","rgba(140,86,75,0.24)","rgba(227,119,194,0.24)","rgba(127,127,127,0.24)","rgba(188,189,34,0.24)","rgba(23,190,207,0.24)","rgba(255,0,0,0.8)","rgba(0,0,255,0.8)","rgba(128,128,128,0.25)"]},
   "legend":{"title":null,"encode":{"symbols":{"update":{"shape":{"signal":"datum.value === '± 1 std. dev.' ? 'M-1,-0.45H1V0.45H-1Z' : 'stroke'"},"fill":{"signal":"datum.value === '± 1 std. dev.' ? 'rgba(128,128,128,0.3)' : 'transparent'"},"stroke":{"signal":"datum.value === 'Chance' ? 'rgba(255,0,0,0.8)' : indexof(datum.value,'Mean') === 0 ? 'rgba(0,0,255,0.8)' : datum.value === '± 1 std. dev.' ? 'rgba(128,128,128,0.4)' : ['rgba(31,119,180,0.3)','rgba(255,127,14,0.3)','rgba(44,160,44,0.3)','rgba(214,39,40,0.3)','rgba(148,103,189,0.3)','rgba(140,86,75,0.3)','rgba(227,119,194,0.3)','rgba(127,127,127,0.3)','rgba(188,189,34,0.3)','rgba(23,190,207,0.3)'][toNumber(substring(datum.value,9,10))]"},"strokeDash":{"signal":"datum.value === 'Chance' ? [3,1.5] : [1,0]"},"strokeWidth":{"signal":"(datum.value === 'Chance' || indexof(datum.value,'Mean') === 0) ? 1.5 : 1"},"opacity":{"value":1}}}}}}}},
 {"data":{"name":"fold_a"},"transform":[{"filter":"datum.k == 0"}],"mark":{"type":"line","strokeWidth":1},"encoding":{"x":{"field":"fpr","type":"quantitative","scale":{"domain":[-0.05,1.05],"nice":false,"zero":false},"axis":null},"y":{"field":"tpr","type":"quantitative","scale":{"domain":[-0.05,1.05],"nice":false,"zero":false}},"color":{"datum":"ROC fold 0 (AUC = 0.50)","type":"nominal"}}},
 {"data":{"name":"fold_a"},"transform":[{"filter":"datum.k == 1"}],"mark":{"type":"line","strokeWidth":1},"encoding":{"x":{"field":"fpr","type":"quantitative","scale":{"domain":[-0.05,1.05],"nice":false,"zero":false},"axis":null},"y":{"field":"tpr","type":"quantitative","scale":{"domain":[-0.05,1.05],"nice":false,"zero":false}},"color":{"datum":"ROC fold 1 (AUC = 0.50)","type":"nominal"}}},
 {"data":{"name":"fold_a"},"transform":[{"filter":"datum.k == 2"}],"mark":{"type":"line","strokeWidth":1},"encoding":{"x":{"field":"fpr","type":"quantitative","scale":{"domain":[-0.05,1.05],"nice":false,"zero":false},"axis":null},"y":{"field":"tpr","type":"quantitative","scale":{"domain":[-0.05,1.05],"nice":false,"zero":false}},"color":{"datum":"ROC fold 2 (AUC = 0.58)","type":"nominal"}}},
 {"data":{"name":"fold_a"},"transform":[{"filter":"datum.k == 3"}],"mark":{"type":"line","strokeWidth":1},"encoding":{"x":{"field":"fpr","type":"quantitative","scale":{"domain":[-0.05,1.05],"nice":false,"zero":false},"axis":null},"y":{"field":"tpr","type":"quantitative","scale":{"domain":[-0.05,1.05],"nice":false,"zero":false}},"color":{"datum":"ROC fold 3 (AUC = 0.52)","type":"nominal"}}},
 {"data":{"name":"fold_a"},"transform":[{"filter":"datum.k == 4"}],"mark":{"type":"line","strokeWidth":1},"encoding":{"x":{"field":"fpr","type":"quantitative","scale":{"domain":[-0.05,1.05],"nice":false,"zero":false},"axis":null},"y":{"field":"tpr","type":"quantitative","scale":{"domain":[-0.05,1.05],"nice":false,"zero":false}},"color":{"datum":"ROC fold 4 (AUC = 0.50)","type":"nominal"}}},
 {"data":{"name":"fold_a"},"transform":[{"filter":"datum.k == 5"}],"mark":{"type":"line","strokeWidth":1},"encoding":{"x":{"field":"fpr","type":"quantitative","scale":{"domain":[-0.05,1.05],"nice":false,"zero":false},"axis":null},"y":{"field":"tpr","type":"quantitative","scale":{"domain":[-0.05,1.05],"nice":false,"zero":false}},"color":{"datum":"ROC fold 5 (AUC = 0.56)","type":"nominal"}}},
 {"data":{"name":"fold_a"},"transform":[{"filter":"datum.k == 6"}],"mark":{"type":"line","strokeWidth":1},"encoding":{"x":{"field":"fpr","type":"quantitative","scale":{"domain":[-0.05,1.05],"nice":false,"zero":false},"axis":null},"y":{"field":"tpr","type":"quantitative","scale":{"domain":[-0.05,1.05],"nice":false,"zero":false}},"color":{"datum":"ROC fold 6 (AUC = 0.55)","type":"nominal"}}},
 {"data":{"name":"fold_a"},"transform":[{"filter":"datum.k == 7"}],"mark":{"type":"line","strokeWidth":1},"encoding":{"x":{"field":"fpr","type":"quantitative","scale":{"domain":[-0.05,1.05],"nice":false,"zero":false},"axis":null},"y":{"field":"tpr","type":"quantitative","scale":{"domain":[-0.05,1.05],"nice":false,"zero":false}},"color":{"datum":"ROC fold 7 (AUC = 0.45)","type":"nominal"}}},
 {"data":{"name":"fold_a"},"transform":[{"filter":"datum.k == 8"}],"mark":{"type":"line","strokeWidth":1},"encoding":{"x":{"field":"fpr","type":"quantitative","scale":{"domain":[-0.05,1.05],"nice":false,"zero":false},"axis":null},"y":{"field":"tpr","type":"quantitative","scale":{"domain":[-0.05,1.05],"nice":false,"zero":false}},"color":{"datum":"ROC fold 8 (AUC = 0.58)","type":"nominal"}}},
 {"data":{"name":"fold_a"},"transform":[{"filter":"datum.k == 9"}],"mark":{"type":"line","strokeWidth":1},"encoding":{"x":{"field":"fpr","type":"quantitative","scale":{"domain":[-0.05,1.05],"nice":false,"zero":false},"axis":null},"y":{"field":"tpr","type":"quantitative","scale":{"domain":[-0.05,1.05],"nice":false,"zero":false}},"color":{"datum":"ROC fold 9 (AUC = 0.64)","type":"nominal"}}},
 {"data":{"values":[{}]},"mark":{"type":"rule","strokeDash":[7,3],"strokeWidth":1.8},"encoding":{"x":{"datum":0,"type":"quantitative","scale":{"domain":[-0.05,1.05],"nice":false,"zero":false},"axis":null},"y":{"datum":0,"type":"quantitative","scale":{"domain":[-0.05,1.05],"nice":false,"zero":false}},"x2":{"datum":1},"y2":{"datum":1},"color":{"datum":"Chance","type":"nominal"}}},
 {"data":{"name":"mean_a"},"mark":{"type":"line","strokeWidth":1.8},"encoding":{"x":{"field":"fpr","type":"quantitative","scale":{"domain":[-0.05,1.05],"nice":false,"zero":false},"axis":{"orient":"top","title":"Decision Tree","labels":false,"ticks":false,"domain":false}},"y":{"field":"tpr","type":"quantitative","scale":{"domain":[-0.05,1.05],"nice":false,"zero":false}},"color":{"datum":"Mean ROC (AUC = 0.54 ± 0.05)","type":"nominal"}}},
 {"data":{"values":[{"lab":"a)"}]},"mark":{"type":"text","font":"Liberation Serif","fontWeight":"bold","fontSize":25,"align":"left","baseline":"alphabetic","color":"#000"},"encoding":{"x":{"datum":-0.29,"type":"quantitative","scale":{"domain":[-0.05,1.05],"nice":false,"zero":false},"axis":null},"y":{"datum":1.09,"type":"quantitative","scale":{"domain":[-0.05,1.05],"nice":false,"zero":false}},"text":{"field":"lab"}}}
]},
{"width":226,"height":219,"resolve":{"axis":{"x":"independent"}},"layer":[
 {"data":{"name":"band_b"},"mark":{"type":"area","opacity":1},"encoding":{"x":{"field":"fpr","type":"quantitative","scale":{"domain":[-0.05,1.05],"nice":false,"zero":false},"axis":{"values":[0,0.2,0.4,0.6,0.8,1],"format":".1f","title":"False positive rate"}},"y":{"field":"hi","type":"quantitative","scale":{"domain":[-0.05,1.05],"nice":false,"zero":false},"axis":{"values":[0,0.2,0.4,0.6,0.8,1],"format":".1f","title":"True positive rate"}},"y2":{"field":"lo"},
  "color":{"datum":"± 1 std. dev.","type":"nominal","scale":{"domain":["ROC fold 0 (AUC = 0.75)","ROC fold 1 (AUC = 0.84)","ROC fold 2 (AUC = 0.97)","ROC fold 3 (AUC = 0.69)","ROC fold 4 (AUC = 0.85)","ROC fold 5 (AUC = 0.70)","ROC fold 6 (AUC = 0.72)","ROC fold 7 (AUC = 0.77)","ROC fold 8 (AUC = 0.92)","ROC fold 9 (AUC = 0.80)","Chance","Mean ROC (AUC = 0.80 ± 0.09)","± 1 std. dev."],"range":["rgba(31,119,180,0.24)","rgba(255,127,14,0.24)","rgba(44,160,44,0.24)","rgba(214,39,40,0.24)","rgba(148,103,189,0.24)","rgba(140,86,75,0.24)","rgba(227,119,194,0.24)","rgba(127,127,127,0.24)","rgba(188,189,34,0.24)","rgba(23,190,207,0.24)","rgba(255,0,0,0.8)","rgba(0,0,255,0.8)","rgba(128,128,128,0.25)"]},
   "legend":{"title":null,"encode":{"symbols":{"update":{"shape":{"signal":"datum.value === '± 1 std. dev.' ? 'M-1,-0.45H1V0.45H-1Z' : 'stroke'"},"fill":{"signal":"datum.value === '± 1 std. dev.' ? 'rgba(128,128,128,0.3)' : 'transparent'"},"stroke":{"signal":"datum.value === 'Chance' ? 'rgba(255,0,0,0.8)' : indexof(datum.value,'Mean') === 0 ? 'rgba(0,0,255,0.8)' : datum.value === '± 1 std. dev.' ? 'rgba(128,128,128,0.4)' : ['rgba(31,119,180,0.3)','rgba(255,127,14,0.3)','rgba(44,160,44,0.3)','rgba(214,39,40,0.3)','rgba(148,103,189,0.3)','rgba(140,86,75,0.3)','rgba(227,119,194,0.3)','rgba(127,127,127,0.3)','rgba(188,189,34,0.3)','rgba(23,190,207,0.3)'][toNumber(substring(datum.value,9,10))]"},"strokeDash":{"signal":"datum.value === 'Chance' ? [3,1.5] : [1,0]"},"strokeWidth":{"signal":"(datum.value === 'Chance' || indexof(datum.value,'Mean') === 0) ? 1.5 : 1"},"opacity":{"value":1}}}}}}}},
 {"data":{"name":"fold_b"},"transform":[{"filter":"datum.k == 0"}],"mark":{"type":"line","strokeWidth":1,"interpolate":"step-after"},"encoding":{"x":{"field":"fpr","type":"quantitative","scale":{"domain":[-0.05,1.05],"nice":false,"zero":false},"axis":null},"y":{"field":"tpr","type":"quantitative","scale":{"domain":[-0.05,1.05],"nice":false,"zero":false}},"color":{"datum":"ROC fold 0 (AUC = 0.75)","type":"nominal"}}},
 {"data":{"name":"fold_b"},"transform":[{"filter":"datum.k == 1"}],"mark":{"type":"line","strokeWidth":1,"interpolate":"step-after"},"encoding":{"x":{"field":"fpr","type":"quantitative","scale":{"domain":[-0.05,1.05],"nice":false,"zero":false},"axis":null},"y":{"field":"tpr","type":"quantitative","scale":{"domain":[-0.05,1.05],"nice":false,"zero":false}},"color":{"datum":"ROC fold 1 (AUC = 0.84)","type":"nominal"}}},
 {"data":{"name":"fold_b"},"transform":[{"filter":"datum.k == 2"}],"mark":{"type":"line","strokeWidth":1,"interpolate":"step-after"},"encoding":{"x":{"field":"fpr","type":"quantitative","scale":{"domain":[-0.05,1.05],"nice":false,"zero":false},"axis":null},"y":{"field":"tpr","type":"quantitative","scale":{"domain":[-0.05,1.05],"nice":false,"zero":false}},"color":{"datum":"ROC fold 2 (AUC = 0.97)","type":"nominal"}}},
 {"data":{"name":"fold_b"},"transform":[{"filter":"datum.k == 3"}],"mark":{"type":"line","strokeWidth":1,"interpolate":"step-after"},"encoding":{"x":{"field":"fpr","type":"quantitative","scale":{"domain":[-0.05,1.05],"nice":false,"zero":false},"axis":null},"y":{"field":"tpr","type":"quantitative","scale":{"domain":[-0.05,1.05],"nice":false,"zero":false}},"color":{"datum":"ROC fold 3 (AUC = 0.69)","type":"nominal"}}},
 {"data":{"name":"fold_b"},"transform":[{"filter":"datum.k == 4"}],"mark":{"type":"line","strokeWidth":1,"interpolate":"step-after"},"encoding":{"x":{"field":"fpr","type":"quantitative","scale":{"domain":[-0.05,1.05],"nice":false,"zero":false},"axis":null},"y":{"field":"tpr","type":"quantitative","scale":{"domain":[-0.05,1.05],"nice":false,"zero":false}},"color":{"datum":"ROC fold 4 (AUC = 0.85)","type":"nominal"}}},
 {"data":{"name":"fold_b"},"transform":[{"filter":"datum.k == 5"}],"mark":{"type":"line","strokeWidth":1,"interpolate":"step-after"},"encoding":{"x":{"field":"fpr","type":"quantitative","scale":{"domain":[-0.05,1.05],"nice":false,"zero":false},"axis":null},"y":{"field":"tpr","type":"quantitative","scale":{"domain":[-0.05,1.05],"nice":false,"zero":false}},"color":{"datum":"ROC fold 5 (AUC = 0.70)","type":"nominal"}}},
 {"data":{"name":"fold_b"},"transform":[{"filter":"datum.k == 6"}],"mark":{"type":"line","strokeWidth":1,"interpolate":"step-after"},"encoding":{"x":{"field":"fpr","type":"quantitative","scale":{"domain":[-0.05,1.05],"nice":false,"zero":false},"axis":null},"y":{"field":"tpr","type":"quantitative","scale":{"domain":[-0.05,1.05],"nice":false,"zero":false}},"color":{"datum":"ROC fold 6 (AUC = 0.72)","type":"nominal"}}},
 {"data":{"name":"fold_b"},"transform":[{"filter":"datum.k == 7"}],"mark":{"type":"line","strokeWidth":1,"interpolate":"step-after"},"encoding":{"x":{"field":"fpr","type":"quantitative","scale":{"domain":[-0.05,1.05],"nice":false,"zero":false},"axis":null},"y":{"field":"tpr","type":"quantitative","scale":{"domain":[-0.05,1.05],"nice":false,"zero":false}},"color":{"datum":"ROC fold 7 (AUC = 0.77)","type":"nominal"}}},
 {"data":{"name":"fold_b"},"transform":[{"filter":"datum.k == 8"}],"mark":{"type":"line","strokeWidth":1,"interpolate":"step-after"},"encoding":{"x":{"field":"fpr","type":"quantitative","scale":{"domain":[-0.05,1.05],"nice":false,"zero":false},"axis":null},"y":{"field":"tpr","type":"quantitative","scale":{"domain":[-0.05,1.05],"nice":false,"zero":false}},"color":{"datum":"ROC fold 8 (AUC = 0.92)","type":"nominal"}}},
 {"data":{"name":"fold_b"},"transform":[{"filter":"datum.k == 9"}],"mark":{"type":"line","strokeWidth":1,"interpolate":"step-after"},"encoding":{"x":{"field":"fpr","type":"quantitative","scale":{"domain":[-0.05,1.05],"nice":false,"zero":false},"axis":null},"y":{"field":"tpr","type":"quantitative","scale":{"domain":[-0.05,1.05],"nice":false,"zero":false}},"color":{"datum":"ROC fold 9 (AUC = 0.80)","type":"nominal"}}},
 {"data":{"values":[{}]},"mark":{"type":"rule","strokeDash":[7,3],"strokeWidth":1.8},"encoding":{"x":{"datum":0,"type":"quantitative","scale":{"domain":[-0.05,1.05],"nice":false,"zero":false},"axis":null},"y":{"datum":0,"type":"quantitative","scale":{"domain":[-0.05,1.05],"nice":false,"zero":false}},"x2":{"datum":1},"y2":{"datum":1},"color":{"datum":"Chance","type":"nominal"}}},
 {"data":{"name":"mean_b"},"mark":{"type":"line","strokeWidth":1.8},"encoding":{"x":{"field":"fpr","type":"quantitative","scale":{"domain":[-0.05,1.05],"nice":false,"zero":false},"axis":{"orient":"top","title":"GradientBoostingClassifier","labels":false,"ticks":false,"domain":false}},"y":{"field":"tpr","type":"quantitative","scale":{"domain":[-0.05,1.05],"nice":false,"zero":false}},"color":{"datum":"Mean ROC (AUC = 0.80 ± 0.09)","type":"nominal"}}},
 {"data":{"values":[{"lab":"b)"}]},"mark":{"type":"text","font":"Liberation Serif","fontWeight":"bold","fontSize":25,"align":"left","baseline":"alphabetic","color":"#000"},"encoding":{"x":{"datum":-0.29,"type":"quantitative","scale":{"domain":[-0.05,1.05],"nice":false,"zero":false},"axis":null},"y":{"datum":1.09,"type":"quantitative","scale":{"domain":[-0.05,1.05],"nice":false,"zero":false}},"text":{"field":"lab"}}}
]},
{"width":226,"height":219,"resolve":{"axis":{"x":"independent"}},"layer":[
 {"data":{"name":"band_c"},"mark":{"type":"area","opacity":1},"encoding":{"x":{"field":"fpr","type":"quantitative","scale":{"domain":[-0.05,1.05],"nice":false,"zero":false},"axis":{"values":[0,0.2,0.4,0.6,0.8,1],"format":".1f","title":"False positive rate"}},"y":{"field":"hi","type":"quantitative","scale":{"domain":[-0.05,1.05],"nice":false,"zero":false},"axis":{"values":[0,0.2,0.4,0.6,0.8,1],"format":".1f","title":"True positive rate"}},"y2":{"field":"lo"},
  "color":{"datum":"± 1 std. dev.","type":"nominal","scale":{"domain":["ROC fold 0 (AUC = 0.72)","ROC fold 1 (AUC = 0.75)","ROC fold 2 (AUC = 0.80)","ROC fold 3 (AUC = 0.83)","ROC fold 4 (AUC = 0.73)","ROC fold 5 (AUC = 0.77)","ROC fold 6 (AUC = 0.81)","ROC fold 7 (AUC = 0.78)","ROC fold 8 (AUC = 0.79)","ROC fold 9 (AUC = 0.79)","Chance","Mean ROC (AUC = 0.78 ± 0.03)","± 1 std. dev."],"range":["rgba(31,119,180,0.24)","rgba(255,127,14,0.24)","rgba(44,160,44,0.24)","rgba(214,39,40,0.24)","rgba(148,103,189,0.24)","rgba(140,86,75,0.24)","rgba(227,119,194,0.24)","rgba(127,127,127,0.24)","rgba(188,189,34,0.24)","rgba(23,190,207,0.24)","rgba(255,0,0,0.8)","rgba(0,0,255,0.8)","rgba(128,128,128,0.25)"]},
   "legend":{"title":null,"encode":{"symbols":{"update":{"shape":{"signal":"datum.value === '± 1 std. dev.' ? 'M-1,-0.45H1V0.45H-1Z' : 'stroke'"},"fill":{"signal":"datum.value === '± 1 std. dev.' ? 'rgba(128,128,128,0.3)' : 'transparent'"},"stroke":{"signal":"datum.value === 'Chance' ? 'rgba(255,0,0,0.8)' : indexof(datum.value,'Mean') === 0 ? 'rgba(0,0,255,0.8)' : datum.value === '± 1 std. dev.' ? 'rgba(128,128,128,0.4)' : ['rgba(31,119,180,0.3)','rgba(255,127,14,0.3)','rgba(44,160,44,0.3)','rgba(214,39,40,0.3)','rgba(148,103,189,0.3)','rgba(140,86,75,0.3)','rgba(227,119,194,0.3)','rgba(127,127,127,0.3)','rgba(188,189,34,0.3)','rgba(23,190,207,0.3)'][toNumber(substring(datum.value,9,10))]"},"strokeDash":{"signal":"datum.value === 'Chance' ? [3,1.5] : [1,0]"},"strokeWidth":{"signal":"(datum.value === 'Chance' || indexof(datum.value,'Mean') === 0) ? 1.5 : 1"},"opacity":{"value":1}}}}}}}},
 {"data":{"name":"fold_c"},"transform":[{"filter":"datum.k == 0"}],"mark":{"type":"line","strokeWidth":1,"interpolate":"step-after"},"encoding":{"x":{"field":"fpr","type":"quantitative","scale":{"domain":[-0.05,1.05],"nice":false,"zero":false},"axis":null},"y":{"field":"tpr","type":"quantitative","scale":{"domain":[-0.05,1.05],"nice":false,"zero":false}},"color":{"datum":"ROC fold 0 (AUC = 0.72)","type":"nominal"}}},
 {"data":{"name":"fold_c"},"transform":[{"filter":"datum.k == 1"}],"mark":{"type":"line","strokeWidth":1,"interpolate":"step-after"},"encoding":{"x":{"field":"fpr","type":"quantitative","scale":{"domain":[-0.05,1.05],"nice":false,"zero":false},"axis":null},"y":{"field":"tpr","type":"quantitative","scale":{"domain":[-0.05,1.05],"nice":false,"zero":false}},"color":{"datum":"ROC fold 1 (AUC = 0.75)","type":"nominal"}}},
 {"data":{"name":"fold_c"},"transform":[{"filter":"datum.k == 2"}],"mark":{"type":"line","strokeWidth":1,"interpolate":"step-after"},"encoding":{"x":{"field":"fpr","type":"quantitative","scale":{"domain":[-0.05,1.05],"nice":false,"zero":false},"axis":null},"y":{"field":"tpr","type":"quantitative","scale":{"domain":[-0.05,1.05],"nice":false,"zero":false}},"color":{"datum":"ROC fold 2 (AUC = 0.80)","type":"nominal"}}},
 {"data":{"name":"fold_c"},"transform":[{"filter":"datum.k == 3"}],"mark":{"type":"line","strokeWidth":1,"interpolate":"step-after"},"encoding":{"x":{"field":"fpr","type":"quantitative","scale":{"domain":[-0.05,1.05],"nice":false,"zero":false},"axis":null},"y":{"field":"tpr","type":"quantitative","scale":{"domain":[-0.05,1.05],"nice":false,"zero":false}},"color":{"datum":"ROC fold 3 (AUC = 0.83)","type":"nominal"}}},
 {"data":{"name":"fold_c"},"transform":[{"filter":"datum.k == 4"}],"mark":{"type":"line","strokeWidth":1,"interpolate":"step-after"},"encoding":{"x":{"field":"fpr","type":"quantitative","scale":{"domain":[-0.05,1.05],"nice":false,"zero":false},"axis":null},"y":{"field":"tpr","type":"quantitative","scale":{"domain":[-0.05,1.05],"nice":false,"zero":false}},"color":{"datum":"ROC fold 4 (AUC = 0.73)","type":"nominal"}}},
 {"data":{"name":"fold_c"},"transform":[{"filter":"datum.k == 5"}],"mark":{"type":"line","strokeWidth":1,"interpolate":"step-after"},"encoding":{"x":{"field":"fpr","type":"quantitative","scale":{"domain":[-0.05,1.05],"nice":false,"zero":false},"axis":null},"y":{"field":"tpr","type":"quantitative","scale":{"domain":[-0.05,1.05],"nice":false,"zero":false}},"color":{"datum":"ROC fold 5 (AUC = 0.77)","type":"nominal"}}},
 {"data":{"name":"fold_c"},"transform":[{"filter":"datum.k == 6"}],"mark":{"type":"line","strokeWidth":1,"interpolate":"step-after"},"encoding":{"x":{"field":"fpr","type":"quantitative","scale":{"domain":[-0.05,1.05],"nice":false,"zero":false},"axis":null},"y":{"field":"tpr","type":"quantitative","scale":{"domain":[-0.05,1.05],"nice":false,"zero":false}},"color":{"datum":"ROC fold 6 (AUC = 0.81)","type":"nominal"}}},
 {"data":{"name":"fold_c"},"transform":[{"filter":"datum.k == 7"}],"mark":{"type":"line","strokeWidth":1,"interpolate":"step-after"},"encoding":{"x":{"field":"fpr","type":"quantitative","scale":{"domain":[-0.05,1.05],"nice":false,"zero":false},"axis":null},"y":{"field":"tpr","type":"quantitative","scale":{"domain":[-0.05,1.05],"nice":false,"zero":false}},"color":{"datum":"ROC fold 7 (AUC = 0.78)","type":"nominal"}}},
 {"data":{"name":"fold_c"},"transform":[{"filter":"datum.k == 8"}],"mark":{"type":"line","strokeWidth":1,"interpolate":"step-after"},"encoding":{"x":{"field":"fpr","type":"quantitative","scale":{"domain":[-0.05,1.05],"nice":false,"zero":false},"axis":null},"y":{"field":"tpr","type":"quantitative","scale":{"domain":[-0.05,1.05],"nice":false,"zero":false}},"color":{"datum":"ROC fold 8 (AUC = 0.79)","type":"nominal"}}},
 {"data":{"name":"fold_c"},"transform":[{"filter":"datum.k == 9"}],"mark":{"type":"line","strokeWidth":1,"interpolate":"step-after"},"encoding":{"x":{"field":"fpr","type":"quantitative","scale":{"domain":[-0.05,1.05],"nice":false,"zero":false},"axis":null},"y":{"field":"tpr","type":"quantitative","scale":{"domain":[-0.05,1.05],"nice":false,"zero":false}},"color":{"datum":"ROC fold 9 (AUC = 0.79)","type":"nominal"}}},
 {"data":{"values":[{}]},"mark":{"type":"rule","strokeDash":[7,3],"strokeWidth":1.8},"encoding":{"x":{"datum":0,"type":"quantitative","scale":{"domain":[-0.05,1.05],"nice":false,"zero":false},"axis":null},"y":{"datum":0,"type":"quantitative","scale":{"domain":[-0.05,1.05],"nice":false,"zero":false}},"x2":{"datum":1},"y2":{"datum":1},"color":{"datum":"Chance","type":"nominal"}}},
 {"data":{"name":"mean_c"},"mark":{"type":"line","strokeWidth":1.8},"encoding":{"x":{"field":"fpr","type":"quantitative","scale":{"domain":[-0.05,1.05],"nice":false,"zero":false},"axis":{"orient":"top","title":"Logistic Regreesion","labels":false,"ticks":false,"domain":false}},"y":{"field":"tpr","type":"quantitative","scale":{"domain":[-0.05,1.05],"nice":false,"zero":false}},"color":{"datum":"Mean ROC (AUC = 0.78 ± 0.03)","type":"nominal"}}},
 {"data":{"values":[{"lab":"c)"}]},"mark":{"type":"text","font":"Liberation Serif","fontWeight":"bold","fontSize":25,"align":"left","baseline":"alphabetic","color":"#000"},"encoding":{"x":{"datum":-0.29,"type":"quantitative","scale":{"domain":[-0.05,1.05],"nice":false,"zero":false},"axis":null},"y":{"datum":1.09,"type":"quantitative","scale":{"domain":[-0.05,1.05],"nice":false,"zero":false}},"text":{"field":"lab"}}}
]},
{"width":226,"height":219,"resolve":{"axis":{"x":"independent"}},"layer":[
 {"data":{"name":"band_d"},"mark":{"type":"area","opacity":1},"encoding":{"x":{"field":"fpr","type":"quantitative","scale":{"domain":[-0.05,1.05],"nice":false,"zero":false},"axis":{"values":[0,0.2,0.4,0.6,0.8,1],"format":".1f","title":"False positive rate"}},"y":{"field":"hi","type":"quantitative","scale":{"domain":[-0.05,1.05],"nice":false,"zero":false},"axis":{"values":[0,0.2,0.4,0.6,0.8,1],"format":".1f","title":"True positive rate"}},"y2":{"field":"lo"},
  "color":{"datum":"± 1 std. dev.","type":"nominal","scale":{"domain":["ROC fold 0 (AUC = 0.67)","ROC fold 1 (AUC = 0.66)","ROC fold 2 (AUC = 0.67)","ROC fold 3 (AUC = 0.64)","ROC fold 4 (AUC = 0.42)","ROC fold 5 (AUC = 0.75)","ROC fold 6 (AUC = 0.50)","ROC fold 7 (AUC = 0.76)","ROC fold 8 (AUC = 0.60)","ROC fold 9 (AUC = 0.46)","Chance","Mean ROC (AUC = 0.61 ± 0.11)","± 1 std. dev."],"range":["rgba(31,119,180,0.24)","rgba(255,127,14,0.24)","rgba(44,160,44,0.24)","rgba(214,39,40,0.24)","rgba(148,103,189,0.24)","rgba(140,86,75,0.24)","rgba(227,119,194,0.24)","rgba(127,127,127,0.24)","rgba(188,189,34,0.24)","rgba(23,190,207,0.24)","rgba(255,0,0,0.8)","rgba(0,0,255,0.8)","rgba(128,128,128,0.25)"]},
   "legend":{"title":null,"encode":{"symbols":{"update":{"shape":{"signal":"datum.value === '± 1 std. dev.' ? 'M-1,-0.45H1V0.45H-1Z' : 'stroke'"},"fill":{"signal":"datum.value === '± 1 std. dev.' ? 'rgba(128,128,128,0.3)' : 'transparent'"},"stroke":{"signal":"datum.value === 'Chance' ? 'rgba(255,0,0,0.8)' : indexof(datum.value,'Mean') === 0 ? 'rgba(0,0,255,0.8)' : datum.value === '± 1 std. dev.' ? 'rgba(128,128,128,0.4)' : ['rgba(31,119,180,0.3)','rgba(255,127,14,0.3)','rgba(44,160,44,0.3)','rgba(214,39,40,0.3)','rgba(148,103,189,0.3)','rgba(140,86,75,0.3)','rgba(227,119,194,0.3)','rgba(127,127,127,0.3)','rgba(188,189,34,0.3)','rgba(23,190,207,0.3)'][toNumber(substring(datum.value,9,10))]"},"strokeDash":{"signal":"datum.value === 'Chance' ? [3,1.5] : [1,0]"},"strokeWidth":{"signal":"(datum.value === 'Chance' || indexof(datum.value,'Mean') === 0) ? 1.5 : 1"},"opacity":{"value":1}}}}}}}},
 {"data":{"name":"fold_d"},"transform":[{"filter":"datum.k == 0"}],"mark":{"type":"line","strokeWidth":1,"interpolate":"step-after"},"encoding":{"x":{"field":"fpr","type":"quantitative","scale":{"domain":[-0.05,1.05],"nice":false,"zero":false},"axis":null},"y":{"field":"tpr","type":"quantitative","scale":{"domain":[-0.05,1.05],"nice":false,"zero":false}},"color":{"datum":"ROC fold 0 (AUC = 0.67)","type":"nominal"}}},
 {"data":{"name":"fold_d"},"transform":[{"filter":"datum.k == 1"}],"mark":{"type":"line","strokeWidth":1,"interpolate":"step-after"},"encoding":{"x":{"field":"fpr","type":"quantitative","scale":{"domain":[-0.05,1.05],"nice":false,"zero":false},"axis":null},"y":{"field":"tpr","type":"quantitative","scale":{"domain":[-0.05,1.05],"nice":false,"zero":false}},"color":{"datum":"ROC fold 1 (AUC = 0.66)","type":"nominal"}}},
 {"data":{"name":"fold_d"},"transform":[{"filter":"datum.k == 2"}],"mark":{"type":"line","strokeWidth":1,"interpolate":"step-after"},"encoding":{"x":{"field":"fpr","type":"quantitative","scale":{"domain":[-0.05,1.05],"nice":false,"zero":false},"axis":null},"y":{"field":"tpr","type":"quantitative","scale":{"domain":[-0.05,1.05],"nice":false,"zero":false}},"color":{"datum":"ROC fold 2 (AUC = 0.67)","type":"nominal"}}},
 {"data":{"name":"fold_d"},"transform":[{"filter":"datum.k == 3"}],"mark":{"type":"line","strokeWidth":1,"interpolate":"step-after"},"encoding":{"x":{"field":"fpr","type":"quantitative","scale":{"domain":[-0.05,1.05],"nice":false,"zero":false},"axis":null},"y":{"field":"tpr","type":"quantitative","scale":{"domain":[-0.05,1.05],"nice":false,"zero":false}},"color":{"datum":"ROC fold 3 (AUC = 0.64)","type":"nominal"}}},
 {"data":{"name":"fold_d"},"transform":[{"filter":"datum.k == 4"}],"mark":{"type":"line","strokeWidth":1,"interpolate":"step-after"},"encoding":{"x":{"field":"fpr","type":"quantitative","scale":{"domain":[-0.05,1.05],"nice":false,"zero":false},"axis":null},"y":{"field":"tpr","type":"quantitative","scale":{"domain":[-0.05,1.05],"nice":false,"zero":false}},"color":{"datum":"ROC fold 4 (AUC = 0.42)","type":"nominal"}}},
 {"data":{"name":"fold_d"},"transform":[{"filter":"datum.k == 5"}],"mark":{"type":"line","strokeWidth":1,"interpolate":"step-after"},"encoding":{"x":{"field":"fpr","type":"quantitative","scale":{"domain":[-0.05,1.05],"nice":false,"zero":false},"axis":null},"y":{"field":"tpr","type":"quantitative","scale":{"domain":[-0.05,1.05],"nice":false,"zero":false}},"color":{"datum":"ROC fold 5 (AUC = 0.75)","type":"nominal"}}},
 {"data":{"name":"fold_d"},"transform":[{"filter":"datum.k == 6"}],"mark":{"type":"line","strokeWidth":1,"interpolate":"step-after"},"encoding":{"x":{"field":"fpr","type":"quantitative","scale":{"domain":[-0.05,1.05],"nice":false,"zero":false},"axis":null},"y":{"field":"tpr","type":"quantitative","scale":{"domain":[-0.05,1.05],"nice":false,"zero":false}},"color":{"datum":"ROC fold 6 (AUC = 0.50)","type":"nominal"}}},
 {"data":{"name":"fold_d"},"transform":[{"filter":"datum.k == 7"}],"mark":{"type":"line","strokeWidth":1,"interpolate":"step-after"},"encoding":{"x":{"field":"fpr","type":"quantitative","scale":{"domain":[-0.05,1.05],"nice":false,"zero":false},"axis":null},"y":{"field":"tpr","type":"quantitative","scale":{"domain":[-0.05,1.05],"nice":false,"zero":false}},"color":{"datum":"ROC fold 7 (AUC = 0.76)","type":"nominal"}}},
 {"data":{"name":"fold_d"},"transform":[{"filter":"datum.k == 8"}],"mark":{"type":"line","strokeWidth":1,"interpolate":"step-after"},"encoding":{"x":{"field":"fpr","type":"quantitative","scale":{"domain":[-0.05,1.05],"nice":false,"zero":false},"axis":null},"y":{"field":"tpr","type":"quantitative","scale":{"domain":[-0.05,1.05],"nice":false,"zero":false}},"color":{"datum":"ROC fold 8 (AUC = 0.60)","type":"nominal"}}},
 {"data":{"name":"fold_d"},"transform":[{"filter":"datum.k == 9"}],"mark":{"type":"line","strokeWidth":1,"interpolate":"step-after"},"encoding":{"x":{"field":"fpr","type":"quantitative","scale":{"domain":[-0.05,1.05],"nice":false,"zero":false},"axis":null},"y":{"field":"tpr","type":"quantitative","scale":{"domain":[-0.05,1.05],"nice":false,"zero":false}},"color":{"datum":"ROC fold 9 (AUC = 0.46)","type":"nominal"}}},
 {"data":{"values":[{}]},"mark":{"type":"rule","strokeDash":[7,3],"strokeWidth":1.8},"encoding":{"x":{"datum":0,"type":"quantitative","scale":{"domain":[-0.05,1.05],"nice":false,"zero":false},"axis":null},"y":{"datum":0,"type":"quantitative","scale":{"domain":[-0.05,1.05],"nice":false,"zero":false}},"x2":{"datum":1},"y2":{"datum":1},"color":{"datum":"Chance","type":"nominal"}}},
 {"data":{"name":"mean_d"},"mark":{"type":"line","strokeWidth":1.8},"encoding":{"x":{"field":"fpr","type":"quantitative","scale":{"domain":[-0.05,1.05],"nice":false,"zero":false},"axis":{"orient":"top","title":"Multi-layer Perceptron classifier","labels":false,"ticks":false,"domain":false}},"y":{"field":"tpr","type":"quantitative","scale":{"domain":[-0.05,1.05],"nice":false,"zero":false}},"color":{"datum":"Mean ROC (AUC = 0.61 ± 0.11)","type":"nominal"}}},
 {"data":{"values":[{"lab":"d)"}]},"mark":{"type":"text","font":"Liberation Serif","fontWeight":"bold","fontSize":25,"align":"left","baseline":"alphabetic","color":"#000"},"encoding":{"x":{"datum":-0.29,"type":"quantitative","scale":{"domain":[-0.05,1.05],"nice":false,"zero":false},"axis":null},"y":{"datum":1.09,"type":"quantitative","scale":{"domain":[-0.05,1.05],"nice":false,"zero":false}},"text":{"field":"lab"}}}
]},
{"width":226,"height":219,"resolve":{"axis":{"x":"independent"}},"layer":[
 {"data":{"name":"band_e"},"mark":{"type":"area","opacity":1},"encoding":{"x":{"field":"fpr","type":"quantitative","scale":{"domain":[-0.05,1.05],"nice":false,"zero":false},"axis":{"values":[0,0.2,0.4,0.6,0.8,1],"format":".1f","title":"False positive rate"}},"y":{"field":"hi","type":"quantitative","scale":{"domain":[-0.05,1.05],"nice":false,"zero":false},"axis":{"values":[0,0.2,0.4,0.6,0.8,1],"format":".1f","title":"True positive rate"}},"y2":{"field":"lo"},
  "color":{"datum":"± 1 std. dev.","type":"nominal","scale":{"domain":["ROC fold 0 (AUC = 0.72)","ROC fold 1 (AUC = 0.72)","ROC fold 2 (AUC = 0.82)","ROC fold 3 (AUC = 0.66)","ROC fold 4 (AUC = 0.64)","ROC fold 5 (AUC = 0.64)","ROC fold 6 (AUC = 0.88)","ROC fold 7 (AUC = 0.75)","ROC fold 8 (AUC = 0.61)","ROC fold 9 (AUC = 0.78)","Chance","Mean ROC (AUC = 0.72 ± 0.08)","± 1 std. dev."],"range":["rgba(31,119,180,0.24)","rgba(255,127,14,0.24)","rgba(44,160,44,0.24)","rgba(214,39,40,0.24)","rgba(148,103,189,0.24)","rgba(140,86,75,0.24)","rgba(227,119,194,0.24)","rgba(127,127,127,0.24)","rgba(188,189,34,0.24)","rgba(23,190,207,0.24)","rgba(255,0,0,0.8)","rgba(0,0,255,0.8)","rgba(128,128,128,0.25)"]},
   "legend":{"title":null,"encode":{"symbols":{"update":{"shape":{"signal":"datum.value === '± 1 std. dev.' ? 'M-1,-0.45H1V0.45H-1Z' : 'stroke'"},"fill":{"signal":"datum.value === '± 1 std. dev.' ? 'rgba(128,128,128,0.3)' : 'transparent'"},"stroke":{"signal":"datum.value === 'Chance' ? 'rgba(255,0,0,0.8)' : indexof(datum.value,'Mean') === 0 ? 'rgba(0,0,255,0.8)' : datum.value === '± 1 std. dev.' ? 'rgba(128,128,128,0.4)' : ['rgba(31,119,180,0.3)','rgba(255,127,14,0.3)','rgba(44,160,44,0.3)','rgba(214,39,40,0.3)','rgba(148,103,189,0.3)','rgba(140,86,75,0.3)','rgba(227,119,194,0.3)','rgba(127,127,127,0.3)','rgba(188,189,34,0.3)','rgba(23,190,207,0.3)'][toNumber(substring(datum.value,9,10))]"},"strokeDash":{"signal":"datum.value === 'Chance' ? [3,1.5] : [1,0]"},"strokeWidth":{"signal":"(datum.value === 'Chance' || indexof(datum.value,'Mean') === 0) ? 1.5 : 1"},"opacity":{"value":1}}}}}}}},
 {"data":{"name":"fold_e"},"transform":[{"filter":"datum.k == 0"}],"mark":{"type":"line","strokeWidth":1},"encoding":{"x":{"field":"fpr","type":"quantitative","scale":{"domain":[-0.05,1.05],"nice":false,"zero":false},"axis":null},"y":{"field":"tpr","type":"quantitative","scale":{"domain":[-0.05,1.05],"nice":false,"zero":false}},"color":{"datum":"ROC fold 0 (AUC = 0.72)","type":"nominal"}}},
 {"data":{"name":"fold_e"},"transform":[{"filter":"datum.k == 1"}],"mark":{"type":"line","strokeWidth":1},"encoding":{"x":{"field":"fpr","type":"quantitative","scale":{"domain":[-0.05,1.05],"nice":false,"zero":false},"axis":null},"y":{"field":"tpr","type":"quantitative","scale":{"domain":[-0.05,1.05],"nice":false,"zero":false}},"color":{"datum":"ROC fold 1 (AUC = 0.72)","type":"nominal"}}},
 {"data":{"name":"fold_e"},"transform":[{"filter":"datum.k == 2"}],"mark":{"type":"line","strokeWidth":1},"encoding":{"x":{"field":"fpr","type":"quantitative","scale":{"domain":[-0.05,1.05],"nice":false,"zero":false},"axis":null},"y":{"field":"tpr","type":"quantitative","scale":{"domain":[-0.05,1.05],"nice":false,"zero":false}},"color":{"datum":"ROC fold 2 (AUC = 0.82)","type":"nominal"}}},
 {"data":{"name":"fold_e"},"transform":[{"filter":"datum.k == 3"}],"mark":{"type":"line","strokeWidth":1},"encoding":{"x":{"field":"fpr","type":"quantitative","scale":{"domain":[-0.05,1.05],"nice":false,"zero":false},"axis":null},"y":{"field":"tpr","type":"quantitative","scale":{"domain":[-0.05,1.05],"nice":false,"zero":false}},"color":{"datum":"ROC fold 3 (AUC = 0.66)","type":"nominal"}}},
 {"data":{"name":"fold_e"},"transform":[{"filter":"datum.k == 4"}],"mark":{"type":"line","strokeWidth":1},"encoding":{"x":{"field":"fpr","type":"quantitative","scale":{"domain":[-0.05,1.05],"nice":false,"zero":false},"axis":null},"y":{"field":"tpr","type":"quantitative","scale":{"domain":[-0.05,1.05],"nice":false,"zero":false}},"color":{"datum":"ROC fold 4 (AUC = 0.64)","type":"nominal"}}},
 {"data":{"name":"fold_e"},"transform":[{"filter":"datum.k == 5"}],"mark":{"type":"line","strokeWidth":1},"encoding":{"x":{"field":"fpr","type":"quantitative","scale":{"domain":[-0.05,1.05],"nice":false,"zero":false},"axis":null},"y":{"field":"tpr","type":"quantitative","scale":{"domain":[-0.05,1.05],"nice":false,"zero":false}},"color":{"datum":"ROC fold 5 (AUC = 0.64)","type":"nominal"}}},
 {"data":{"name":"fold_e"},"transform":[{"filter":"datum.k == 6"}],"mark":{"type":"line","strokeWidth":1},"encoding":{"x":{"field":"fpr","type":"quantitative","scale":{"domain":[-0.05,1.05],"nice":false,"zero":false},"axis":null},"y":{"field":"tpr","type":"quantitative","scale":{"domain":[-0.05,1.05],"nice":false,"zero":false}},"color":{"datum":"ROC fold 6 (AUC = 0.88)","type":"nominal"}}},
 {"data":{"name":"fold_e"},"transform":[{"filter":"datum.k == 7"}],"mark":{"type":"line","strokeWidth":1},"encoding":{"x":{"field":"fpr","type":"quantitative","scale":{"domain":[-0.05,1.05],"nice":false,"zero":false},"axis":null},"y":{"field":"tpr","type":"quantitative","scale":{"domain":[-0.05,1.05],"nice":false,"zero":false}},"color":{"datum":"ROC fold 7 (AUC = 0.75)","type":"nominal"}}},
 {"data":{"name":"fold_e"},"transform":[{"filter":"datum.k == 8"}],"mark":{"type":"line","strokeWidth":1},"encoding":{"x":{"field":"fpr","type":"quantitative","scale":{"domain":[-0.05,1.05],"nice":false,"zero":false},"axis":null},"y":{"field":"tpr","type":"quantitative","scale":{"domain":[-0.05,1.05],"nice":false,"zero":false}},"color":{"datum":"ROC fold 8 (AUC = 0.61)","type":"nominal"}}},
 {"data":{"name":"fold_e"},"transform":[{"filter":"datum.k == 9"}],"mark":{"type":"line","strokeWidth":1},"encoding":{"x":{"field":"fpr","type":"quantitative","scale":{"domain":[-0.05,1.05],"nice":false,"zero":false},"axis":null},"y":{"field":"tpr","type":"quantitative","scale":{"domain":[-0.05,1.05],"nice":false,"zero":false}},"color":{"datum":"ROC fold 9 (AUC = 0.78)","type":"nominal"}}},
 {"data":{"values":[{}]},"mark":{"type":"rule","strokeDash":[7,3],"strokeWidth":1.8},"encoding":{"x":{"datum":0,"type":"quantitative","scale":{"domain":[-0.05,1.05],"nice":false,"zero":false},"axis":null},"y":{"datum":0,"type":"quantitative","scale":{"domain":[-0.05,1.05],"nice":false,"zero":false}},"x2":{"datum":1},"y2":{"datum":1},"color":{"datum":"Chance","type":"nominal"}}},
 {"data":{"name":"mean_e"},"mark":{"type":"line","strokeWidth":1.8},"encoding":{"x":{"field":"fpr","type":"quantitative","scale":{"domain":[-0.05,1.05],"nice":false,"zero":false},"axis":{"orient":"top","title":"Nearest Neighbors","labels":false,"ticks":false,"domain":false}},"y":{"field":"tpr","type":"quantitative","scale":{"domain":[-0.05,1.05],"nice":false,"zero":false}},"color":{"datum":"Mean ROC (AUC = 0.72 ± 0.08)","type":"nominal"}}},
 {"data":{"values":[{"lab":"e)"}]},"mark":{"type":"text","font":"Liberation Serif","fontWeight":"bold","fontSize":25,"align":"left","baseline":"alphabetic","color":"#000"},"encoding":{"x":{"datum":-0.29,"type":"quantitative","scale":{"domain":[-0.05,1.05],"nice":false,"zero":false},"axis":null},"y":{"datum":1.09,"type":"quantitative","scale":{"domain":[-0.05,1.05],"nice":false,"zero":false}},"text":{"field":"lab"}}}
]},
{"width":226,"height":219,"resolve":{"axis":{"x":"independent"}},"layer":[
 {"data":{"name":"band_f"},"mark":{"type":"area","opacity":1},"encoding":{"x":{"field":"fpr","type":"quantitative","scale":{"domain":[-0.05,1.05],"nice":false,"zero":false},"axis":{"values":[0,0.2,0.4,0.6,0.8,1],"format":".1f","title":"False positive rate"}},"y":{"field":"hi","type":"quantitative","scale":{"domain":[-0.05,1.05],"nice":false,"zero":false},"axis":{"values":[0,0.2,0.4,0.6,0.8,1],"format":".1f","title":"True positive rate"}},"y2":{"field":"lo"},
  "color":{"datum":"± 1 std. dev.","type":"nominal","scale":{"domain":["ROC fold 0 (AUC = 0.77)","ROC fold 1 (AUC = 0.83)","ROC fold 2 (AUC = 0.57)","ROC fold 3 (AUC = 0.66)","ROC fold 4 (AUC = 0.73)","ROC fold 5 (AUC = 0.71)","ROC fold 6 (AUC = 0.82)","ROC fold 7 (AUC = 0.74)","ROC fold 8 (AUC = 0.71)","ROC fold 9 (AUC = 0.72)","Chance","Mean ROC (AUC = 0.73 ± 0.07)","± 1 std. dev."],"range":["rgba(31,119,180,0.24)","rgba(255,127,14,0.24)","rgba(44,160,44,0.24)","rgba(214,39,40,0.24)","rgba(148,103,189,0.24)","rgba(140,86,75,0.24)","rgba(227,119,194,0.24)","rgba(127,127,127,0.24)","rgba(188,189,34,0.24)","rgba(23,190,207,0.24)","rgba(255,0,0,0.8)","rgba(0,0,255,0.8)","rgba(128,128,128,0.25)"]},
   "legend":{"title":null,"encode":{"symbols":{"update":{"shape":{"signal":"datum.value === '± 1 std. dev.' ? 'M-1,-0.45H1V0.45H-1Z' : 'stroke'"},"fill":{"signal":"datum.value === '± 1 std. dev.' ? 'rgba(128,128,128,0.3)' : 'transparent'"},"stroke":{"signal":"datum.value === 'Chance' ? 'rgba(255,0,0,0.8)' : indexof(datum.value,'Mean') === 0 ? 'rgba(0,0,255,0.8)' : datum.value === '± 1 std. dev.' ? 'rgba(128,128,128,0.4)' : ['rgba(31,119,180,0.3)','rgba(255,127,14,0.3)','rgba(44,160,44,0.3)','rgba(214,39,40,0.3)','rgba(148,103,189,0.3)','rgba(140,86,75,0.3)','rgba(227,119,194,0.3)','rgba(127,127,127,0.3)','rgba(188,189,34,0.3)','rgba(23,190,207,0.3)'][toNumber(substring(datum.value,9,10))]"},"strokeDash":{"signal":"datum.value === 'Chance' ? [3,1.5] : [1,0]"},"strokeWidth":{"signal":"(datum.value === 'Chance' || indexof(datum.value,'Mean') === 0) ? 1.5 : 1"},"opacity":{"value":1}}}}}}}},
 {"data":{"name":"fold_f"},"transform":[{"filter":"datum.k == 0"}],"mark":{"type":"line","strokeWidth":1,"interpolate":"step-after"},"encoding":{"x":{"field":"fpr","type":"quantitative","scale":{"domain":[-0.05,1.05],"nice":false,"zero":false},"axis":null},"y":{"field":"tpr","type":"quantitative","scale":{"domain":[-0.05,1.05],"nice":false,"zero":false}},"color":{"datum":"ROC fold 0 (AUC = 0.77)","type":"nominal"}}},
 {"data":{"name":"fold_f"},"transform":[{"filter":"datum.k == 1"}],"mark":{"type":"line","strokeWidth":1,"interpolate":"step-after"},"encoding":{"x":{"field":"fpr","type":"quantitative","scale":{"domain":[-0.05,1.05],"nice":false,"zero":false},"axis":null},"y":{"field":"tpr","type":"quantitative","scale":{"domain":[-0.05,1.05],"nice":false,"zero":false}},"color":{"datum":"ROC fold 1 (AUC = 0.83)","type":"nominal"}}},
 {"data":{"name":"fold_f"},"transform":[{"filter":"datum.k == 2"}],"mark":{"type":"line","strokeWidth":1,"interpolate":"step-after"},"encoding":{"x":{"field":"fpr","type":"quantitative","scale":{"domain":[-0.05,1.05],"nice":false,"zero":false},"axis":null},"y":{"field":"tpr","type":"quantitative","scale":{"domain":[-0.05,1.05],"nice":false,"zero":false}},"color":{"datum":"ROC fold 2 (AUC = 0.57)","type":"nominal"}}},
 {"data":{"name":"fold_f"},"transform":[{"filter":"datum.k == 3"}],"mark":{"type":"line","strokeWidth":1,"interpolate":"step-after"},"encoding":{"x":{"field":"fpr","type":"quantitative","scale":{"domain":[-0.05,1.05],"nice":false,"zero":false},"axis":null},"y":{"field":"tpr","type":"quantitative","scale":{"domain":[-0.05,1.05],"nice":false,"zero":false}},"color":{"datum":"ROC fold 3 (AUC = 0.66)","type":"nominal"}}},
 {"data":{"name":"fold_f"},"transform":[{"filter":"datum.k == 4"}],"mark":{"type":"line","strokeWidth":1,"interpolate":"step-after"},"encoding":{"x":{"field":"fpr","type":"quantitative","scale":{"domain":[-0.05,1.05],"nice":false,"zero":false},"axis":null},"y":{"field":"tpr","type":"quantitative","scale":{"domain":[-0.05,1.05],"nice":false,"zero":false}},"color":{"datum":"ROC fold 4 (AUC = 0.73)","type":"nominal"}}},
 {"data":{"name":"fold_f"},"transform":[{"filter":"datum.k == 5"}],"mark":{"type":"line","strokeWidth":1,"interpolate":"step-after"},"encoding":{"x":{"field":"fpr","type":"quantitative","scale":{"domain":[-0.05,1.05],"nice":false,"zero":false},"axis":null},"y":{"field":"tpr","type":"quantitative","scale":{"domain":[-0.05,1.05],"nice":false,"zero":false}},"color":{"datum":"ROC fold 5 (AUC = 0.71)","type":"nominal"}}},
 {"data":{"name":"fold_f"},"transform":[{"filter":"datum.k == 6"}],"mark":{"type":"line","strokeWidth":1,"interpolate":"step-after"},"encoding":{"x":{"field":"fpr","type":"quantitative","scale":{"domain":[-0.05,1.05],"nice":false,"zero":false},"axis":null},"y":{"field":"tpr","type":"quantitative","scale":{"domain":[-0.05,1.05],"nice":false,"zero":false}},"color":{"datum":"ROC fold 6 (AUC = 0.82)","type":"nominal"}}},
 {"data":{"name":"fold_f"},"transform":[{"filter":"datum.k == 7"}],"mark":{"type":"line","strokeWidth":1,"interpolate":"step-after"},"encoding":{"x":{"field":"fpr","type":"quantitative","scale":{"domain":[-0.05,1.05],"nice":false,"zero":false},"axis":null},"y":{"field":"tpr","type":"quantitative","scale":{"domain":[-0.05,1.05],"nice":false,"zero":false}},"color":{"datum":"ROC fold 7 (AUC = 0.74)","type":"nominal"}}},
 {"data":{"name":"fold_f"},"transform":[{"filter":"datum.k == 8"}],"mark":{"type":"line","strokeWidth":1,"interpolate":"step-after"},"encoding":{"x":{"field":"fpr","type":"quantitative","scale":{"domain":[-0.05,1.05],"nice":false,"zero":false},"axis":null},"y":{"field":"tpr","type":"quantitative","scale":{"domain":[-0.05,1.05],"nice":false,"zero":false}},"color":{"datum":"ROC fold 8 (AUC = 0.71)","type":"nominal"}}},
 {"data":{"name":"fold_f"},"transform":[{"filter":"datum.k == 9"}],"mark":{"type":"line","strokeWidth":1,"interpolate":"step-after"},"encoding":{"x":{"field":"fpr","type":"quantitative","scale":{"domain":[-0.05,1.05],"nice":false,"zero":false},"axis":null},"y":{"field":"tpr","type":"quantitative","scale":{"domain":[-0.05,1.05],"nice":false,"zero":false}},"color":{"datum":"ROC fold 9 (AUC = 0.72)","type":"nominal"}}},
 {"data":{"values":[{}]},"mark":{"type":"rule","strokeDash":[7,3],"strokeWidth":1.8},"encoding":{"x":{"datum":0,"type":"quantitative","scale":{"domain":[-0.05,1.05],"nice":false,"zero":false},"axis":null},"y":{"datum":0,"type":"quantitative","scale":{"domain":[-0.05,1.05],"nice":false,"zero":false}},"x2":{"datum":1},"y2":{"datum":1},"color":{"datum":"Chance","type":"nominal"}}},
 {"data":{"name":"mean_f"},"mark":{"type":"line","strokeWidth":1.8},"encoding":{"x":{"field":"fpr","type":"quantitative","scale":{"domain":[-0.05,1.05],"nice":false,"zero":false},"axis":{"orient":"top","title":"Random Forest","labels":false,"ticks":false,"domain":false}},"y":{"field":"tpr","type":"quantitative","scale":{"domain":[-0.05,1.05],"nice":false,"zero":false}},"color":{"datum":"Mean ROC (AUC = 0.73 ± 0.07)","type":"nominal"}}},
 {"data":{"values":[{"lab":"f)"}]},"mark":{"type":"text","font":"Liberation Serif","fontWeight":"bold","fontSize":25,"align":"left","baseline":"alphabetic","color":"#000"},"encoding":{"x":{"datum":-0.29,"type":"quantitative","scale":{"domain":[-0.05,1.05],"nice":false,"zero":false},"axis":null},"y":{"datum":1.09,"type":"quantitative","scale":{"domain":[-0.05,1.05],"nice":false,"zero":false}},"text":{"field":"lab"}}}
]},
{"width":226,"height":219,"resolve":{"axis":{"x":"independent"}},"layer":[
 {"data":{"name":"band_g"},"mark":{"type":"area","opacity":1},"encoding":{"x":{"field":"fpr","type":"quantitative","scale":{"domain":[-0.05,1.05],"nice":false,"zero":false},"axis":{"values":[0,0.2,0.4,0.6,0.8,1],"format":".1f","title":"False positive rate"}},"y":{"field":"hi","type":"quantitative","scale":{"domain":[-0.05,1.05],"nice":false,"zero":false},"axis":{"values":[0,0.2,0.4,0.6,0.8,1],"format":".1f","title":"True positive rate"}},"y2":{"field":"lo"},
  "color":{"datum":"± 1 std. dev.","type":"nominal","scale":{"domain":["ROC fold 0 (AUC = 0.72)","ROC fold 1 (AUC = 0.72)","ROC fold 2 (AUC = 0.65)","ROC fold 3 (AUC = 0.77)","ROC fold 4 (AUC = 0.67)","ROC fold 5 (AUC = 0.78)","ROC fold 6 (AUC = 0.72)","ROC fold 7 (AUC = 0.81)","ROC fold 8 (AUC = 0.74)","ROC fold 9 (AUC = 0.69)","Chance","Mean ROC (AUC = 0.73 ± 0.05)","± 1 std. dev."],"range":["rgba(31,119,180,0.24)","rgba(255,127,14,0.24)","rgba(44,160,44,0.24)","rgba(214,39,40,0.24)","rgba(148,103,189,0.24)","rgba(140,86,75,0.24)","rgba(227,119,194,0.24)","rgba(127,127,127,0.24)","rgba(188,189,34,0.24)","rgba(23,190,207,0.24)","rgba(255,0,0,0.8)","rgba(0,0,255,0.8)","rgba(128,128,128,0.25)"]},
   "legend":{"title":null,"encode":{"symbols":{"update":{"shape":{"signal":"datum.value === '± 1 std. dev.' ? 'M-1,-0.45H1V0.45H-1Z' : 'stroke'"},"fill":{"signal":"datum.value === '± 1 std. dev.' ? 'rgba(128,128,128,0.3)' : 'transparent'"},"stroke":{"signal":"datum.value === 'Chance' ? 'rgba(255,0,0,0.8)' : indexof(datum.value,'Mean') === 0 ? 'rgba(0,0,255,0.8)' : datum.value === '± 1 std. dev.' ? 'rgba(128,128,128,0.4)' : ['rgba(31,119,180,0.3)','rgba(255,127,14,0.3)','rgba(44,160,44,0.3)','rgba(214,39,40,0.3)','rgba(148,103,189,0.3)','rgba(140,86,75,0.3)','rgba(227,119,194,0.3)','rgba(127,127,127,0.3)','rgba(188,189,34,0.3)','rgba(23,190,207,0.3)'][toNumber(substring(datum.value,9,10))]"},"strokeDash":{"signal":"datum.value === 'Chance' ? [3,1.5] : [1,0]"},"strokeWidth":{"signal":"(datum.value === 'Chance' || indexof(datum.value,'Mean') === 0) ? 1.5 : 1"},"opacity":{"value":1}}}}}}}},
 {"data":{"name":"fold_g"},"transform":[{"filter":"datum.k == 0"}],"mark":{"type":"line","strokeWidth":1,"interpolate":"step-after"},"encoding":{"x":{"field":"fpr","type":"quantitative","scale":{"domain":[-0.05,1.05],"nice":false,"zero":false},"axis":null},"y":{"field":"tpr","type":"quantitative","scale":{"domain":[-0.05,1.05],"nice":false,"zero":false}},"color":{"datum":"ROC fold 0 (AUC = 0.72)","type":"nominal"}}},
 {"data":{"name":"fold_g"},"transform":[{"filter":"datum.k == 1"}],"mark":{"type":"line","strokeWidth":1,"interpolate":"step-after"},"encoding":{"x":{"field":"fpr","type":"quantitative","scale":{"domain":[-0.05,1.05],"nice":false,"zero":false},"axis":null},"y":{"field":"tpr","type":"quantitative","scale":{"domain":[-0.05,1.05],"nice":false,"zero":false}},"color":{"datum":"ROC fold 1 (AUC = 0.72)","type":"nominal"}}},
 {"data":{"name":"fold_g"},"transform":[{"filter":"datum.k == 2"}],"mark":{"type":"line","strokeWidth":1,"interpolate":"step-after"},"encoding":{"x":{"field":"fpr","type":"quantitative","scale":{"domain":[-0.05,1.05],"nice":false,"zero":false},"axis":null},"y":{"field":"tpr","type":"quantitative","scale":{"domain":[-0.05,1.05],"nice":false,"zero":false}},"color":{"datum":"ROC fold 2 (AUC = 0.65)","type":"nominal"}}},
 {"data":{"name":"fold_g"},"transform":[{"filter":"datum.k == 3"}],"mark":{"type":"line","strokeWidth":1,"interpolate":"step-after"},"encoding":{"x":{"field":"fpr","type":"quantitative","scale":{"domain":[-0.05,1.05],"nice":false,"zero":false},"axis":null},"y":{"field":"tpr","type":"quantitative","scale":{"domain":[-0.05,1.05],"nice":false,"zero":false}},"color":{"datum":"ROC fold 3 (AUC = 0.77)","type":"nominal"}}},
 {"data":{"name":"fold_g"},"transform":[{"filter":"datum.k == 4"}],"mark":{"type":"line","strokeWidth":1,"interpolate":"step-after"},"encoding":{"x":{"field":"fpr","type":"quantitative","scale":{"domain":[-0.05,1.05],"nice":false,"zero":false},"axis":null},"y":{"field":"tpr","type":"quantitative","scale":{"domain":[-0.05,1.05],"nice":false,"zero":false}},"color":{"datum":"ROC fold 4 (AUC = 0.67)","type":"nominal"}}},
 {"data":{"name":"fold_g"},"transform":[{"filter":"datum.k == 5"}],"mark":{"type":"line","strokeWidth":1,"interpolate":"step-after"},"encoding":{"x":{"field":"fpr","type":"quantitative","scale":{"domain":[-0.05,1.05],"nice":false,"zero":false},"axis":null},"y":{"field":"tpr","type":"quantitative","scale":{"domain":[-0.05,1.05],"nice":false,"zero":false}},"color":{"datum":"ROC fold 5 (AUC = 0.78)","type":"nominal"}}},
 {"data":{"name":"fold_g"},"transform":[{"filter":"datum.k == 6"}],"mark":{"type":"line","strokeWidth":1,"interpolate":"step-after"},"encoding":{"x":{"field":"fpr","type":"quantitative","scale":{"domain":[-0.05,1.05],"nice":false,"zero":false},"axis":null},"y":{"field":"tpr","type":"quantitative","scale":{"domain":[-0.05,1.05],"nice":false,"zero":false}},"color":{"datum":"ROC fold 6 (AUC = 0.72)","type":"nominal"}}},
 {"data":{"name":"fold_g"},"transform":[{"filter":"datum.k == 7"}],"mark":{"type":"line","strokeWidth":1,"interpolate":"step-after"},"encoding":{"x":{"field":"fpr","type":"quantitative","scale":{"domain":[-0.05,1.05],"nice":false,"zero":false},"axis":null},"y":{"field":"tpr","type":"quantitative","scale":{"domain":[-0.05,1.05],"nice":false,"zero":false}},"color":{"datum":"ROC fold 7 (AUC = 0.81)","type":"nominal"}}},
 {"data":{"name":"fold_g"},"transform":[{"filter":"datum.k == 8"}],"mark":{"type":"line","strokeWidth":1,"interpolate":"step-after"},"encoding":{"x":{"field":"fpr","type":"quantitative","scale":{"domain":[-0.05,1.05],"nice":false,"zero":false},"axis":null},"y":{"field":"tpr","type":"quantitative","scale":{"domain":[-0.05,1.05],"nice":false,"zero":false}},"color":{"datum":"ROC fold 8 (AUC = 0.74)","type":"nominal"}}},
 {"data":{"name":"fold_g"},"transform":[{"filter":"datum.k == 9"}],"mark":{"type":"line","strokeWidth":1,"interpolate":"step-after"},"encoding":{"x":{"field":"fpr","type":"quantitative","scale":{"domain":[-0.05,1.05],"nice":false,"zero":false},"axis":null},"y":{"field":"tpr","type":"quantitative","scale":{"domain":[-0.05,1.05],"nice":false,"zero":false}},"color":{"datum":"ROC fold 9 (AUC = 0.69)","type":"nominal"}}},
 {"data":{"values":[{}]},"mark":{"type":"rule","strokeDash":[7,3],"strokeWidth":1.8},"encoding":{"x":{"datum":0,"type":"quantitative","scale":{"domain":[-0.05,1.05],"nice":false,"zero":false},"axis":null},"y":{"datum":0,"type":"quantitative","scale":{"domain":[-0.05,1.05],"nice":false,"zero":false}},"x2":{"datum":1},"y2":{"datum":1},"color":{"datum":"Chance","type":"nominal"}}},
 {"data":{"name":"mean_g"},"mark":{"type":"line","strokeWidth":1.8},"encoding":{"x":{"field":"fpr","type":"quantitative","scale":{"domain":[-0.05,1.05],"nice":false,"zero":false},"axis":{"orient":"top","title":"SVC","labels":false,"ticks":false,"domain":false}},"y":{"field":"tpr","type":"quantitative","scale":{"domain":[-0.05,1.05],"nice":false,"zero":false}},"color":{"datum":"Mean ROC (AUC = 0.73 ± 0.05)","type":"nominal"}}},
 {"data":{"values":[{"lab":"g)"}]},"mark":{"type":"text","font":"Liberation Serif","fontWeight":"bold","fontSize":25,"align":"left","baseline":"alphabetic","color":"#000"},"encoding":{"x":{"datum":-0.29,"type":"quantitative","scale":{"domain":[-0.05,1.05],"nice":false,"zero":false},"axis":null},"y":{"datum":1.09,"type":"quantitative","scale":{"domain":[-0.05,1.05],"nice":false,"zero":false}},"text":{"field":"lab"}}}
]},
{"width":226,"height":219,"resolve":{"axis":{"x":"independent"}},"layer":[
 {"data":{"name":"band_h"},"mark":{"type":"area","opacity":1},"encoding":{"x":{"field":"fpr","type":"quantitative","scale":{"domain":[-0.05,1.05],"nice":false,"zero":false},"axis":{"values":[0,0.2,0.4,0.6,0.8,1],"format":".1f","title":"False positive rate"}},"y":{"field":"hi","type":"quantitative","scale":{"domain":[-0.05,1.05],"nice":false,"zero":false},"axis":{"values":[0,0.2,0.4,0.6,0.8,1],"format":".1f","title":"True positive rate"}},"y2":{"field":"lo"},
  "color":{"datum":"± 1 std. dev.","type":"nominal","scale":{"domain":["ROC fold 0 (AUC = 0.80)","ROC fold 1 (AUC = 0.85)","ROC fold 2 (AUC = 0.84)","ROC fold 3 (AUC = 0.84)","ROC fold 4 (AUC = 0.91)","ROC fold 5 (AUC = 0.70)","ROC fold 6 (AUC = 0.81)","ROC fold 7 (AUC = 0.66)","ROC fold 8 (AUC = 0.81)","ROC fold 9 (AUC = 0.73)","Chance","Mean ROC (AUC = 0.79 ± 0.07)","± 1 std. dev."],"range":["rgba(31,119,180,0.24)","rgba(255,127,14,0.24)","rgba(44,160,44,0.24)","rgba(214,39,40,0.24)","rgba(148,103,189,0.24)","rgba(140,86,75,0.24)","rgba(227,119,194,0.24)","rgba(127,127,127,0.24)","rgba(188,189,34,0.24)","rgba(23,190,207,0.24)","rgba(255,0,0,0.8)","rgba(0,0,255,0.8)","rgba(128,128,128,0.25)"]},
   "legend":{"title":null,"encode":{"symbols":{"update":{"shape":{"signal":"datum.value === '± 1 std. dev.' ? 'M-1,-0.45H1V0.45H-1Z' : 'stroke'"},"fill":{"signal":"datum.value === '± 1 std. dev.' ? 'rgba(128,128,128,0.3)' : 'transparent'"},"stroke":{"signal":"datum.value === 'Chance' ? 'rgba(255,0,0,0.8)' : indexof(datum.value,'Mean') === 0 ? 'rgba(0,0,255,0.8)' : datum.value === '± 1 std. dev.' ? 'rgba(128,128,128,0.4)' : ['rgba(31,119,180,0.3)','rgba(255,127,14,0.3)','rgba(44,160,44,0.3)','rgba(214,39,40,0.3)','rgba(148,103,189,0.3)','rgba(140,86,75,0.3)','rgba(227,119,194,0.3)','rgba(127,127,127,0.3)','rgba(188,189,34,0.3)','rgba(23,190,207,0.3)'][toNumber(substring(datum.value,9,10))]"},"strokeDash":{"signal":"datum.value === 'Chance' ? [3,1.5] : [1,0]"},"strokeWidth":{"signal":"(datum.value === 'Chance' || indexof(datum.value,'Mean') === 0) ? 1.5 : 1"},"opacity":{"value":1}}}}}}}},
 {"data":{"name":"fold_h"},"transform":[{"filter":"datum.k == 0"}],"mark":{"type":"line","strokeWidth":1,"interpolate":"step-after"},"encoding":{"x":{"field":"fpr","type":"quantitative","scale":{"domain":[-0.05,1.05],"nice":false,"zero":false},"axis":null},"y":{"field":"tpr","type":"quantitative","scale":{"domain":[-0.05,1.05],"nice":false,"zero":false}},"color":{"datum":"ROC fold 0 (AUC = 0.80)","type":"nominal"}}},
 {"data":{"name":"fold_h"},"transform":[{"filter":"datum.k == 1"}],"mark":{"type":"line","strokeWidth":1,"interpolate":"step-after"},"encoding":{"x":{"field":"fpr","type":"quantitative","scale":{"domain":[-0.05,1.05],"nice":false,"zero":false},"axis":null},"y":{"field":"tpr","type":"quantitative","scale":{"domain":[-0.05,1.05],"nice":false,"zero":false}},"color":{"datum":"ROC fold 1 (AUC = 0.85)","type":"nominal"}}},
 {"data":{"name":"fold_h"},"transform":[{"filter":"datum.k == 2"}],"mark":{"type":"line","strokeWidth":1,"interpolate":"step-after"},"encoding":{"x":{"field":"fpr","type":"quantitative","scale":{"domain":[-0.05,1.05],"nice":false,"zero":false},"axis":null},"y":{"field":"tpr","type":"quantitative","scale":{"domain":[-0.05,1.05],"nice":false,"zero":false}},"color":{"datum":"ROC fold 2 (AUC = 0.84)","type":"nominal"}}},
 {"data":{"name":"fold_h"},"transform":[{"filter":"datum.k == 3"}],"mark":{"type":"line","strokeWidth":1,"interpolate":"step-after"},"encoding":{"x":{"field":"fpr","type":"quantitative","scale":{"domain":[-0.05,1.05],"nice":false,"zero":false},"axis":null},"y":{"field":"tpr","type":"quantitative","scale":{"domain":[-0.05,1.05],"nice":false,"zero":false}},"color":{"datum":"ROC fold 3 (AUC = 0.84)","type":"nominal"}}},
 {"data":{"name":"fold_h"},"transform":[{"filter":"datum.k == 4"}],"mark":{"type":"line","strokeWidth":1,"interpolate":"step-after"},"encoding":{"x":{"field":"fpr","type":"quantitative","scale":{"domain":[-0.05,1.05],"nice":false,"zero":false},"axis":null},"y":{"field":"tpr","type":"quantitative","scale":{"domain":[-0.05,1.05],"nice":false,"zero":false}},"color":{"datum":"ROC fold 4 (AUC = 0.91)","type":"nominal"}}},
 {"data":{"name":"fold_h"},"transform":[{"filter":"datum.k == 5"}],"mark":{"type":"line","strokeWidth":1,"interpolate":"step-after"},"encoding":{"x":{"field":"fpr","type":"quantitative","scale":{"domain":[-0.05,1.05],"nice":false,"zero":false},"axis":null},"y":{"field":"tpr","type":"quantitative","scale":{"domain":[-0.05,1.05],"nice":false,"zero":false}},"color":{"datum":"ROC fold 5 (AUC = 0.70)","type":"nominal"}}},
 {"data":{"name":"fold_h"},"transform":[{"filter":"datum.k == 6"}],"mark":{"type":"line","strokeWidth":1,"interpolate":"step-after"},"encoding":{"x":{"field":"fpr","type":"quantitative","scale":{"domain":[-0.05,1.05],"nice":false,"zero":false},"axis":null},"y":{"field":"tpr","type":"quantitative","scale":{"domain":[-0.05,1.05],"nice":false,"zero":false}},"color":{"datum":"ROC fold 6 (AUC = 0.81)","type":"nominal"}}},
 {"data":{"name":"fold_h"},"transform":[{"filter":"datum.k == 7"}],"mark":{"type":"line","strokeWidth":1,"interpolate":"step-after"},"encoding":{"x":{"field":"fpr","type":"quantitative","scale":{"domain":[-0.05,1.05],"nice":false,"zero":false},"axis":null},"y":{"field":"tpr","type":"quantitative","scale":{"domain":[-0.05,1.05],"nice":false,"zero":false}},"color":{"datum":"ROC fold 7 (AUC = 0.66)","type":"nominal"}}},
 {"data":{"name":"fold_h"},"transform":[{"filter":"datum.k == 8"}],"mark":{"type":"line","strokeWidth":1,"interpolate":"step-after"},"encoding":{"x":{"field":"fpr","type":"quantitative","scale":{"domain":[-0.05,1.05],"nice":false,"zero":false},"axis":null},"y":{"field":"tpr","type":"quantitative","scale":{"domain":[-0.05,1.05],"nice":false,"zero":false}},"color":{"datum":"ROC fold 8 (AUC = 0.81)","type":"nominal"}}},
 {"data":{"name":"fold_h"},"transform":[{"filter":"datum.k == 9"}],"mark":{"type":"line","strokeWidth":1,"interpolate":"step-after"},"encoding":{"x":{"field":"fpr","type":"quantitative","scale":{"domain":[-0.05,1.05],"nice":false,"zero":false},"axis":null},"y":{"field":"tpr","type":"quantitative","scale":{"domain":[-0.05,1.05],"nice":false,"zero":false}},"color":{"datum":"ROC fold 9 (AUC = 0.73)","type":"nominal"}}},
 {"data":{"values":[{}]},"mark":{"type":"rule","strokeDash":[7,3],"strokeWidth":1.8},"encoding":{"x":{"datum":0,"type":"quantitative","scale":{"domain":[-0.05,1.05],"nice":false,"zero":false},"axis":null},"y":{"datum":0,"type":"quantitative","scale":{"domain":[-0.05,1.05],"nice":false,"zero":false}},"x2":{"datum":1},"y2":{"datum":1},"color":{"datum":"Chance","type":"nominal"}}},
 {"data":{"name":"mean_h"},"mark":{"type":"line","strokeWidth":1.8},"encoding":{"x":{"field":"fpr","type":"quantitative","scale":{"domain":[-0.05,1.05],"nice":false,"zero":false},"axis":{"orient":"top","title":"XGBoost Classifier","labels":false,"ticks":false,"domain":false}},"y":{"field":"tpr","type":"quantitative","scale":{"domain":[-0.05,1.05],"nice":false,"zero":false}},"color":{"datum":"Mean ROC (AUC = 0.79 ± 0.07)","type":"nominal"}}},
 {"data":{"values":[{"lab":"h)"}]},"mark":{"type":"text","font":"Liberation Serif","fontWeight":"bold","fontSize":25,"align":"left","baseline":"alphabetic","color":"#000"},"encoding":{"x":{"datum":-0.29,"type":"quantitative","scale":{"domain":[-0.05,1.05],"nice":false,"zero":false},"axis":null},"y":{"datum":1.09,"type":"quantitative","scale":{"domain":[-0.05,1.05],"nice":false,"zero":false}},"text":{"field":"lab"}}}
]}
],
"resolve":{"scale":{"color":"independent"},"legend":{"color":"independent"}},
"config":{
 "font":"DejaVu Sans",
 "view":{"stroke":"#444","strokeWidth":1},
 "axis":{"domain":false,"grid":false,"labelFont":"DejaVu Sans","titleFont":"DejaVu Sans","labelFontSize":16,"titleFontSize":16,"titleFontWeight":"normal","labelColor":"#1a1a1a","titleColor":"#1a1a1a","tickColor":"#1a1a1a","tickSize":4,"labelPadding":3,"titlePadding":3,"labelFlush":false,"labelOverlap":false,"titleLimit":400},
 "axisTop":{"titlePadding":2},
 "axisBottom":{"titlePadding":2},
 "legend":{"orient":"bottom-right","offset":2,"labelFont":"DejaVu Sans","labelFontSize":6.7,"labelColor":"#222","symbolType":"stroke","symbolSize":100,"symbolStrokeWidth":1,"rowPadding":0.1,"padding":3,"symbolOffset":6,"labelOffset":3,"fillColor":"rgba(255,255,255,0.8)","strokeColor":"#cccccc","cornerRadius":2,"labelLimit":300}
}
}
